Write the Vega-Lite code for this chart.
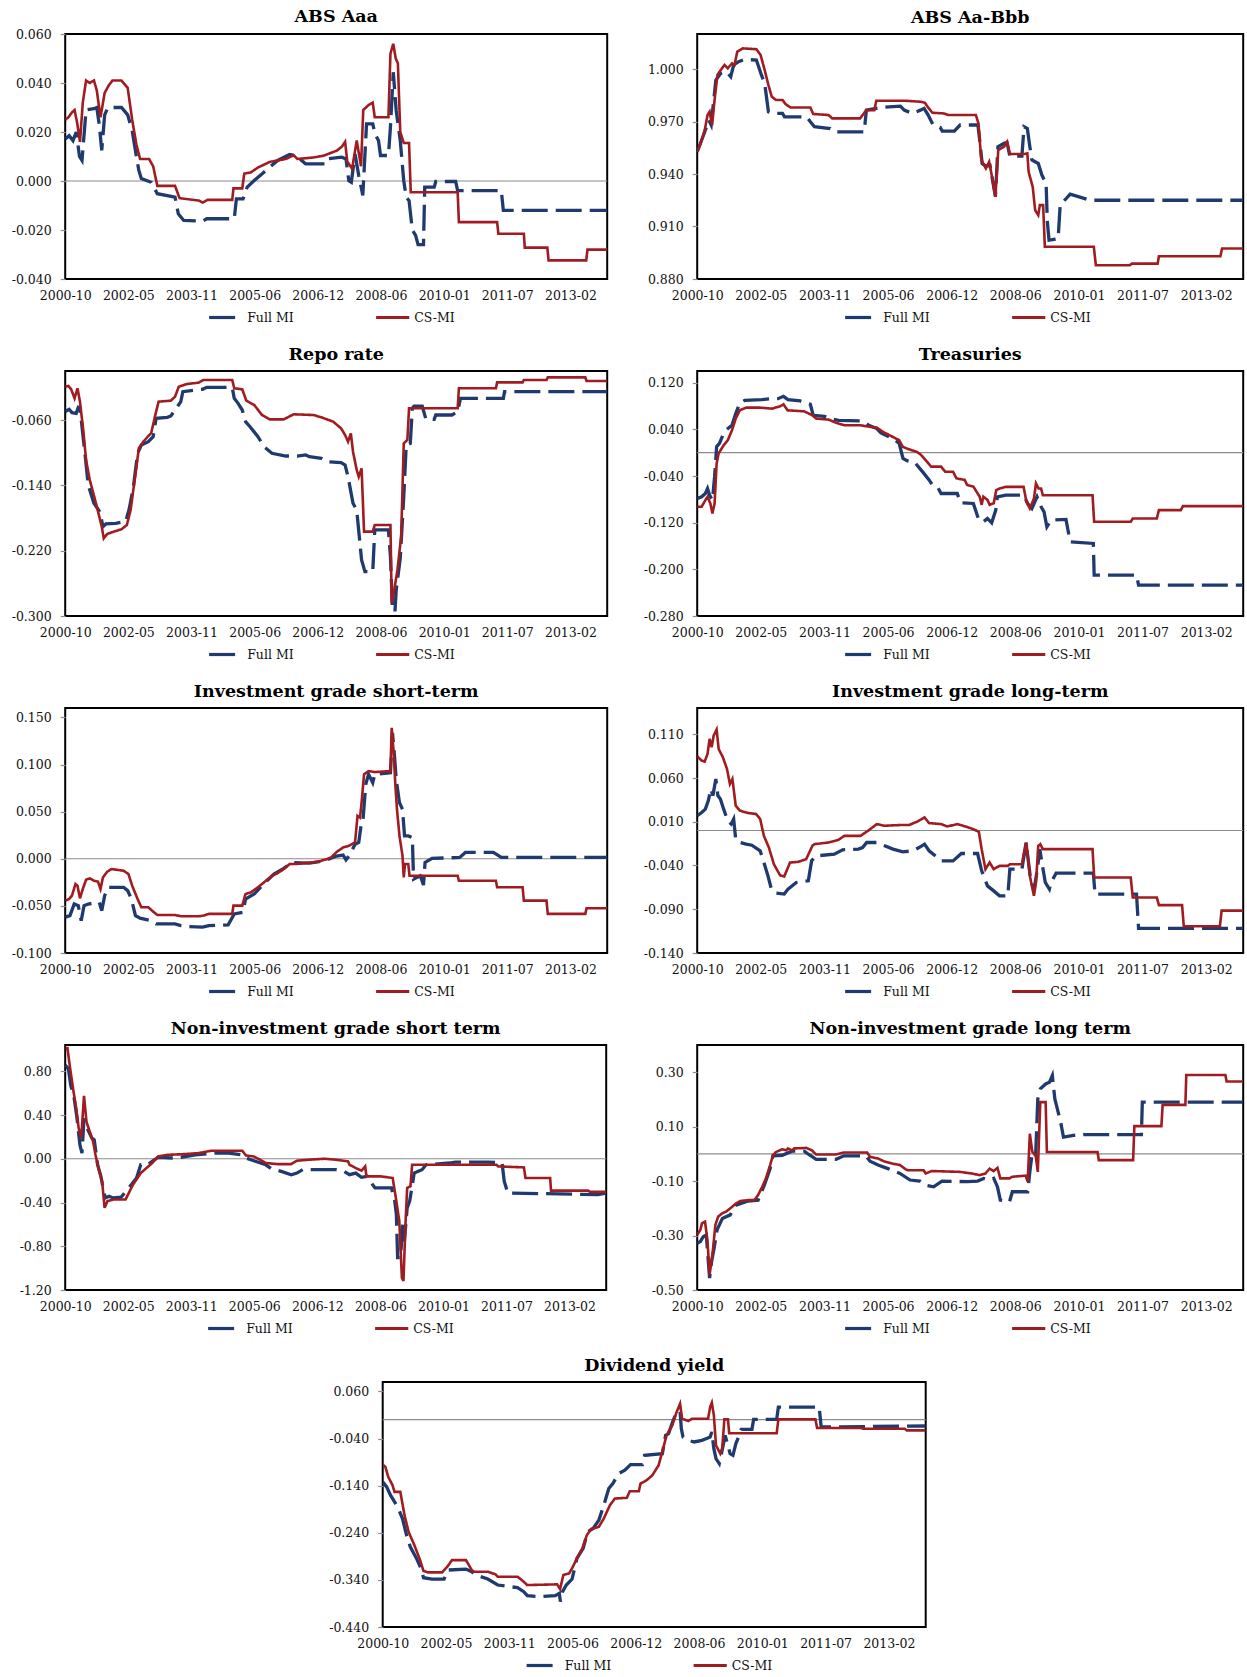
{
  "$schema": "https://vega.github.io/schema/vega-lite/v6.json",
  "background": "white",
  "padding": {"left": 10, "top": 6, "right": 5, "bottom": 0},
  "config": {
    "locale": {"number": {"decimal": ".", "thousands": ",", "grouping": [3], "currency": ["$", ""], "minus": "-"}},
    "view": {"stroke": "#000000", "strokeWidth": 2},
    "axis": {"labelFont": "DejaVu Serif", "labelFontSize": 12.5, "labelColor": "#111111", "grid": false, "title": null},
    "axisX": {"ticks": false, "domain": false, "labelPadding": 10, "labelFlush": false, "labelOverlap": false},
    "axisY": {"domain": false, "ticks": true, "tickColor": "#8c8c8c", "tickSize": 5, "tickWidth": 1.2, "labelPadding": 9, "labelFontSize": 12.5},
    "title": {"font": "DejaVu Serif", "fontSize": 17.5, "fontWeight": "bold", "color": "#000000", "offset": 8, "frame": "group", "anchor": "middle"},
    "legend": {"symbolType": "stroke", "symbolSize": 1100, "symbolStrokeWidth": 3.2, "labelFont": "DejaVu Serif", "labelFontSize": 12.5, "labelColor": "#111111", "columnPadding": 75, "labelOffset": 3}
  },
  "datasets": {
    "aaa": [
      {"series":"Full MI","date":"2000-301","value":0.0172},{"series":"Full MI","date":"2000-336","value":0.0185},{"series":"Full MI","date":"2001-004","value":0.0165},{"series":"Full MI","date":"2001-033","value":0.020},{"series":"Full MI","date":"2001-062","value":0.010},{"series":"Full MI","date":"2001-084","value":0.0084},{"series":"Full MI","date":"2001-120","value":0.029},{"series":"Full MI","date":"2001-190","value":0.0295},{"series":"Full MI","date":"2001-215","value":0.030},{"series":"Full MI","date":"2001-237","value":0.023},{"series":"Full MI","date":"2001-259","value":0.0125},{"series":"Full MI","date":"2001-285","value":0.027},{"series":"Full MI","date":"2001-314","value":0.030},{"series":"Full MI","date":"2002-069","value":0.030},{"series":"Full MI","date":"2002-124","value":0.027},{"series":"Full MI","date":"2002-164","value":0.0206},{"series":"Full MI","date":"2002-201","value":0.010},{"series":"Full MI","date":"2002-223","value":0.0043},{"series":"Full MI","date":"2002-245","value":0.001},{"series":"Full MI","date":"2002-332","value":-0.0005},{"series":"Full MI","date":"2003-022","value":-0.0052},{"series":"Full MI","date":"2003-179","value":-0.0066},{"series":"Full MI","date":"2003-208","value":-0.0134},{"series":"Full MI","date":"2003-256","value":-0.0161},{"series":"Full MI","date":"2004-058","value":-0.0164},{"series":"Full MI","date":"2004-095","value":-0.0154},{"series":"Full MI","date":"2004-339","value":-0.0154},{"series":"Full MI","date":"2004-358","value":-0.0073},{"series":"Full MI","date":"2005-051","value":-0.0073},{"series":"Full MI","date":"2005-088","value":-0.0025},{"series":"Full MI","date":"2005-150","value":0.0002},{"series":"Full MI","date":"2005-226","value":0.0032},{"series":"Full MI","date":"2005-358","value":0.0084},{"series":"Full MI","date":"2006-099","value":0.0108},{"series":"Full MI","date":"2006-153","value":0.0104},{"series":"Full MI","date":"2006-241","value":0.007},{"series":"Full MI","date":"2007-051","value":0.007},{"series":"Full MI","date":"2007-066","value":0.009},{"series":"Full MI","date":"2007-197","value":0.0097},{"series":"Full MI","date":"2007-234","value":0.009},{"series":"Full MI","date":"2007-259","value":0.0001},{"series":"Full MI","date":"2007-281","value":-0.0005},{"series":"Full MI","date":"2007-314","value":0.011},{"series":"Full MI","date":"2007-347","value":0.0022},{"series":"Full MI","date":"2008-018","value":-0.0059},{"series":"Full MI","date":"2008-051","value":0.0233},{"series":"Full MI","date":"2008-106","value":0.0233},{"series":"Full MI","date":"2008-128","value":0.019},{"series":"Full MI","date":"2008-157","value":0.0165},{"series":"Full MI","date":"2008-175","value":0.0104},{"series":"Full MI","date":"2008-245","value":0.0104},{"series":"Full MI","date":"2008-263","value":0.022},{"series":"Full MI","date":"2008-288","value":0.0444},{"series":"Full MI","date":"2008-314","value":0.0287},{"series":"Full MI","date":"2008-350","value":0.0165},{"series":"Full MI","date":"2009-015","value":0.0001},{"series":"Full MI","date":"2009-037","value":-0.0066},{"series":"Full MI","date":"2009-062","value":-0.008},{"series":"Full MI","date":"2009-091","value":-0.020},{"series":"Full MI","date":"2009-120","value":-0.0222},{"series":"Full MI","date":"2009-142","value":-0.026},{"series":"Full MI","date":"2009-190","value":-0.026},{"series":"Full MI","date":"2009-201","value":-0.0025},{"series":"Full MI","date":"2009-285","value":-0.0025},{"series":"Full MI","date":"2009-299","value":-0.0002},{"series":"Full MI","date":"2010-110","value":-0.0002},{"series":"Full MI","date":"2010-128","value":-0.0039},{"series":"Full MI","date":"2011-150","value":-0.0039},{"series":"Full MI","date":"2011-168","value":-0.012},{"series":"Full MI","date":"2013-358","value":-0.012},
      {"series":"CS-MI","date":"2000-301","value":0.025},{"series":"CS-MI","date":"2000-329","value":0.026},{"series":"CS-MI","date":"2000-361","value":0.028},{"series":"CS-MI","date":"2001-018","value":0.029},{"series":"CS-MI","date":"2001-040","value":0.024},{"series":"CS-MI","date":"2001-066","value":0.016},{"series":"CS-MI","date":"2001-091","value":0.032},{"series":"CS-MI","date":"2001-120","value":0.041},{"series":"CS-MI","date":"2001-153","value":0.040},{"series":"CS-MI","date":"2001-190","value":0.041},{"series":"CS-MI","date":"2001-215","value":0.037},{"series":"CS-MI","date":"2001-248","value":0.026},{"series":"CS-MI","date":"2001-285","value":0.036},{"series":"CS-MI","date":"2001-321","value":0.039},{"series":"CS-MI","date":"2001-354","value":0.041},{"series":"CS-MI","date":"2002-069","value":0.041},{"series":"CS-MI","date":"2002-124","value":0.038},{"series":"CS-MI","date":"2002-164","value":0.025},{"series":"CS-MI","date":"2002-201","value":0.015},{"series":"CS-MI","date":"2002-234","value":0.009},{"series":"CS-MI","date":"2002-314","value":0.009},{"series":"CS-MI","date":"2002-350","value":0.006},{"series":"CS-MI","date":"2003-022","value":-0.002},{"series":"CS-MI","date":"2003-179","value":-0.002},{"series":"CS-MI","date":"2003-219","value":-0.007},{"series":"CS-MI","date":"2004-026","value":-0.008},{"series":"CS-MI","date":"2004-058","value":-0.0088},{"series":"CS-MI","date":"2004-102","value":-0.0077},{"series":"CS-MI","date":"2004-321","value":-0.0077},{"series":"CS-MI","date":"2004-332","value":-0.003},{"series":"CS-MI","date":"2005-044","value":-0.003},{"series":"CS-MI","date":"2005-062","value":0.003},{"series":"CS-MI","date":"2005-120","value":0.0035},{"series":"CS-MI","date":"2005-183","value":0.0055},{"series":"CS-MI","date":"2005-288","value":0.0078},{"series":"CS-MI","date":"2006-066","value":0.009},{"series":"CS-MI","date":"2006-135","value":0.0105},{"series":"CS-MI","date":"2006-168","value":0.009},{"series":"CS-MI","date":"2006-310","value":0.0096},{"series":"CS-MI","date":"2007-033","value":0.0103},{"series":"CS-MI","date":"2007-153","value":0.0124},{"series":"CS-MI","date":"2007-197","value":0.014},{"series":"CS-MI","date":"2007-226","value":0.016},{"series":"CS-MI","date":"2007-245","value":0.008},{"series":"CS-MI","date":"2007-288","value":0.005},{"series":"CS-MI","date":"2007-329","value":0.0165},{"series":"CS-MI","date":"2008-002","value":0.006},{"series":"CS-MI","date":"2008-022","value":0.029},{"series":"CS-MI","date":"2008-069","value":0.031},{"series":"CS-MI","date":"2008-106","value":0.032},{"series":"CS-MI","date":"2008-124","value":0.026},{"series":"CS-MI","date":"2008-245","value":0.026},{"series":"CS-MI","date":"2008-263","value":0.052},{"series":"CS-MI","date":"2008-288","value":0.056},{"series":"CS-MI","date":"2008-310","value":0.050},{"series":"CS-MI","date":"2008-329","value":0.048},{"series":"CS-MI","date":"2008-350","value":0.020},{"series":"CS-MI","date":"2009-015","value":0.0155},{"series":"CS-MI","date":"2009-062","value":0.0155},{"series":"CS-MI","date":"2009-077","value":-0.0046},{"series":"CS-MI","date":"2010-128","value":-0.0046},{"series":"CS-MI","date":"2010-139","value":-0.0168},{"series":"CS-MI","date":"2011-113","value":-0.0168},{"series":"CS-MI","date":"2011-124","value":-0.0215},{"series":"CS-MI","date":"2011-350","value":-0.0215},{"series":"CS-MI","date":"2011-358","value":-0.0272},{"series":"CS-MI","date":"2012-193","value":-0.0272},{"series":"CS-MI","date":"2012-204","value":-0.0324},{"series":"CS-MI","date":"2013-172","value":-0.0324},{"series":"CS-MI","date":"2013-183","value":-0.028},{"series":"CS-MI","date":"2013-358","value":-0.028}
    ],
    "aabbb": [
      {"series":"Full MI","date":"2000-301","value":0.9527},{"series":"Full MI","date":"2001-001","value":0.964},{"series":"Full MI","date":"2001-037","value":0.9708},{"series":"Full MI","date":"2001-058","value":0.968},{"series":"Full MI","date":"2001-099","value":0.9937},{"series":"Full MI","date":"2001-142","value":0.9975},{"series":"Full MI","date":"2001-193","value":0.9985},{"series":"Full MI","date":"2001-230","value":0.9956},{"series":"Full MI","date":"2001-256","value":1.0023},{"series":"Full MI","date":"2001-299","value":1.0042},{"series":"Full MI","date":"2001-354","value":1.0055},{"series":"Full MI","date":"2002-091","value":1.0051},{"series":"Full MI","date":"2002-135","value":0.9966},{"series":"Full MI","date":"2002-164","value":0.9918},{"series":"Full MI","date":"2002-197","value":0.9756},{"series":"Full MI","date":"2002-241","value":0.9746},{"series":"Full MI","date":"2002-321","value":0.9746},{"series":"Full MI","date":"2002-339","value":0.9727},{"series":"Full MI","date":"2003-168","value":0.9727},{"series":"Full MI","date":"2003-201","value":0.9699},{"series":"Full MI","date":"2003-237","value":0.967},{"series":"Full MI","date":"2004-011","value":0.966},{"series":"Full MI","date":"2004-047","value":0.9641},{"series":"Full MI","date":"2004-310","value":0.9641},{"series":"Full MI","date":"2004-329","value":0.9765},{"series":"Full MI","date":"2005-088","value":0.978},{"series":"Full MI","date":"2005-263","value":0.9788},{"series":"Full MI","date":"2005-296","value":0.9765},{"series":"Full MI","date":"2006-004","value":0.9746},{"series":"Full MI","date":"2006-073","value":0.9765},{"series":"Full MI","date":"2006-106","value":0.9775},{"series":"Full MI","date":"2006-142","value":0.9737},{"series":"Full MI","date":"2006-186","value":0.968},{"series":"Full MI","date":"2006-248","value":0.9666},{"series":"Full MI","date":"2006-266","value":0.9645},{"series":"Full MI","date":"2007-007","value":0.9645},{"series":"Full MI","date":"2007-058","value":0.968},{"series":"Full MI","date":"2007-215","value":0.968},{"series":"Full MI","date":"2007-234","value":0.9575},{"series":"Full MI","date":"2007-252","value":0.946},{"series":"Full MI","date":"2007-285","value":0.9445},{"series":"Full MI","date":"2007-321","value":0.945},{"series":"Full MI","date":"2008-004","value":0.927},{"series":"Full MI","date":"2008-026","value":0.9556},{"series":"Full MI","date":"2008-080","value":0.9575},{"series":"Full MI","date":"2008-106","value":0.958},{"series":"Full MI","date":"2008-131","value":0.9502},{"series":"Full MI","date":"2008-237","value":0.9502},{"series":"Full MI","date":"2008-256","value":0.967},{"series":"Full MI","date":"2008-285","value":0.966},{"series":"Full MI","date":"2008-307","value":0.9556},{"series":"Full MI","date":"2008-325","value":0.948},{"series":"Full MI","date":"2009-015","value":0.946},{"series":"Full MI","date":"2009-047","value":0.9394},{"series":"Full MI","date":"2009-084","value":0.9346},{"series":"Full MI","date":"2009-095","value":0.9127},{"series":"Full MI","date":"2009-110","value":0.9022},{"series":"Full MI","date":"2009-190","value":0.9031},{"series":"Full MI","date":"2009-208","value":0.9222},{"series":"Full MI","date":"2009-296","value":0.9285},{"series":"Full MI","date":"2010-106","value":0.925},{"series":"Full MI","date":"2013-358","value":0.925},
      {"series":"CS-MI","date":"2000-301","value":0.9527},{"series":"CS-MI","date":"2000-332","value":0.9575},{"series":"CS-MI","date":"2001-001","value":0.965},{"series":"CS-MI","date":"2001-026","value":0.9737},{"series":"CS-MI","date":"2001-044","value":0.9756},{"series":"CS-MI","date":"2001-066","value":0.968},{"series":"CS-MI","date":"2001-088","value":0.9823},{"series":"CS-MI","date":"2001-113","value":0.9966},{"series":"CS-MI","date":"2001-142","value":0.9994},{"series":"CS-MI","date":"2001-175","value":1.0023},{"series":"CS-MI","date":"2001-204","value":1.0004},{"series":"CS-MI","date":"2001-241","value":1.0032},{"series":"CS-MI","date":"2001-263","value":1.0023},{"series":"CS-MI","date":"2001-288","value":1.0099},{"series":"CS-MI","date":"2001-336","value":1.0118},{"series":"CS-MI","date":"2002-091","value":1.0113},{"series":"CS-MI","date":"2002-128","value":1.008},{"series":"CS-MI","date":"2002-164","value":0.9994},{"series":"CS-MI","date":"2002-197","value":0.9908},{"series":"CS-MI","date":"2002-226","value":0.9842},{"series":"CS-MI","date":"2002-263","value":0.9823},{"series":"CS-MI","date":"2002-321","value":0.9823},{"series":"CS-MI","date":"2002-347","value":0.980},{"series":"CS-MI","date":"2003-026","value":0.978},{"series":"CS-MI","date":"2003-201","value":0.978},{"series":"CS-MI","date":"2003-226","value":0.9743},{"series":"CS-MI","date":"2003-361","value":0.9737},{"series":"CS-MI","date":"2004-029","value":0.9718},{"series":"CS-MI","date":"2004-274","value":0.9718},{"series":"CS-MI","date":"2004-329","value":0.9765},{"series":"CS-MI","date":"2005-033","value":0.9765},{"series":"CS-MI","date":"2005-051","value":0.9819},{"series":"CS-MI","date":"2005-296","value":0.9819},{"series":"CS-MI","date":"2006-073","value":0.9813},{"series":"CS-MI","date":"2006-113","value":0.9807},{"series":"CS-MI","date":"2006-142","value":0.978},{"series":"CS-MI","date":"2006-179","value":0.975},{"series":"CS-MI","date":"2006-281","value":0.9746},{"series":"CS-MI","date":"2006-318","value":0.9737},{"series":"CS-MI","date":"2007-197","value":0.9737},{"series":"CS-MI","date":"2007-219","value":0.969},{"series":"CS-MI","date":"2007-245","value":0.948},{"series":"CS-MI","date":"2007-285","value":0.9432},{"series":"CS-MI","date":"2007-314","value":0.947},{"series":"CS-MI","date":"2007-339","value":0.9384},{"series":"CS-MI","date":"2008-004","value":0.927},{"series":"CS-MI","date":"2008-029","value":0.9537},{"series":"CS-MI","date":"2008-080","value":0.9556},{"series":"CS-MI","date":"2008-106","value":0.9584},{"series":"CS-MI","date":"2008-131","value":0.9514},{"series":"CS-MI","date":"2008-256","value":0.9514},{"series":"CS-MI","date":"2008-285","value":0.9518},{"series":"CS-MI","date":"2008-296","value":0.9413},{"series":"CS-MI","date":"2008-332","value":0.9327},{"series":"CS-MI","date":"2008-354","value":0.9193},{"series":"CS-MI","date":"2009-015","value":0.9165},{"series":"CS-MI","date":"2009-029","value":0.9222},{"series":"CS-MI","date":"2009-058","value":0.9222},{"series":"CS-MI","date":"2009-073","value":0.8984},{"series":"CS-MI","date":"2010-139","value":0.8984},{"series":"CS-MI","date":"2010-157","value":0.8879},{"series":"CS-MI","date":"2011-091","value":0.8879},{"series":"CS-MI","date":"2011-110","value":0.8888},{"series":"CS-MI","date":"2011-336","value":0.8888},{"series":"CS-MI","date":"2011-347","value":0.893},{"series":"CS-MI","date":"2013-157","value":0.893},{"series":"CS-MI","date":"2013-172","value":0.8974},{"series":"CS-MI","date":"2013-358","value":0.8974}
    ],
    "repo": [
      {"series":"Full MI","date":"2000-301","value":-0.0498},{"series":"Full MI","date":"2000-336","value":-0.0469},{"series":"Full MI","date":"2000-361","value":-0.051},{"series":"Full MI","date":"2001-033","value":-0.0518},{"series":"Full MI","date":"2001-051","value":-0.0445},{"series":"Full MI","date":"2001-066","value":-0.0457},{"series":"Full MI","date":"2001-084","value":-0.0682},{"series":"Full MI","date":"2001-113","value":-0.1049},{"series":"Full MI","date":"2001-139","value":-0.1396},{"series":"Full MI","date":"2001-190","value":-0.162},{"series":"Full MI","date":"2001-241","value":-0.1722},{"series":"Full MI","date":"2001-270","value":-0.1906},{"series":"Full MI","date":"2001-296","value":-0.1873},{"series":"Full MI","date":"2002-018","value":-0.1865},{"series":"Full MI","date":"2002-106","value":-0.1844},{"series":"Full MI","date":"2002-139","value":-0.1681},{"series":"Full MI","date":"2002-175","value":-0.1416},{"series":"Full MI","date":"2002-212","value":-0.1008},{"series":"Full MI","date":"2002-245","value":-0.0906},{"series":"Full MI","date":"2002-307","value":-0.0865},{"series":"Full MI","date":"2002-350","value":-0.0804},{"series":"Full MI","date":"2003-011","value":-0.058},{"series":"Full MI","date":"2003-110","value":-0.0567},{"series":"Full MI","date":"2003-142","value":-0.0551},{"series":"Full MI","date":"2003-179","value":-0.0478},{"series":"Full MI","date":"2003-230","value":-0.0376},{"series":"Full MI","date":"2003-248","value":-0.0253},{"series":"Full MI","date":"2004-058","value":-0.0224},{"series":"Full MI","date":"2004-095","value":-0.020},{"series":"Full MI","date":"2004-321","value":-0.020},{"series":"Full MI","date":"2004-339","value":-0.0335},{"series":"Full MI","date":"2005-007","value":-0.0396},{"series":"Full MI","date":"2005-044","value":-0.0478},{"series":"Full MI","date":"2005-073","value":-0.062},{"series":"Full MI","date":"2005-113","value":-0.0682},{"series":"Full MI","date":"2005-183","value":-0.0804},{"series":"Full MI","date":"2005-237","value":-0.0927},{"series":"Full MI","date":"2005-307","value":-0.1008},{"series":"Full MI","date":"2006-066","value":-0.1041},{"series":"Full MI","date":"2006-168","value":-0.1041},{"series":"Full MI","date":"2006-241","value":-0.1028},{"series":"Full MI","date":"2006-274","value":-0.1049},{"series":"Full MI","date":"2007-015","value":-0.1069},{"series":"Full MI","date":"2007-058","value":-0.111},{"series":"Full MI","date":"2007-190","value":-0.1122},{"series":"Full MI","date":"2007-226","value":-0.1151},{"series":"Full MI","date":"2007-252","value":-0.1294},{"series":"Full MI","date":"2007-296","value":-0.162},{"series":"Full MI","date":"2007-329","value":-0.1702},{"series":"Full MI","date":"2008-007","value":-0.2314},{"series":"Full MI","date":"2008-037","value":-0.2457},{"series":"Full MI","date":"2008-106","value":-0.2457},{"series":"Full MI","date":"2008-124","value":-0.1946},{"series":"Full MI","date":"2008-245","value":-0.1946},{"series":"Full MI","date":"2008-263","value":-0.2273},{"series":"Full MI","date":"2008-281","value":-0.2926},{"series":"Full MI","date":"2008-303","value":-0.2946},{"series":"Full MI","date":"2008-314","value":-0.2681},{"series":"Full MI","date":"2008-350","value":-0.2293},{"series":"Full MI","date":"2009-015","value":-0.1538},{"series":"Full MI","date":"2009-037","value":-0.0906},{"series":"Full MI","date":"2009-073","value":-0.0886},{"series":"Full MI","date":"2009-091","value":-0.0457},{"series":"Full MI","date":"2009-106","value":-0.0429},{"series":"Full MI","date":"2009-179","value":-0.0429},{"series":"Full MI","date":"2009-212","value":-0.0592},{"series":"Full MI","date":"2009-285","value":-0.0592},{"series":"Full MI","date":"2009-299","value":-0.0539},{"series":"Full MI","date":"2010-077","value":-0.0539},{"series":"Full MI","date":"2010-128","value":-0.0498},{"series":"Full MI","date":"2010-153","value":-0.0335},{"series":"Full MI","date":"2011-168","value":-0.0335},{"series":"Full MI","date":"2011-179","value":-0.0253},{"series":"Full MI","date":"2013-358","value":-0.0253},
      {"series":"CS-MI","date":"2000-301","value":-0.0192},{"series":"CS-MI","date":"2000-329","value":-0.0184},{"series":"CS-MI","date":"2000-354","value":-0.0224},{"series":"CS-MI","date":"2001-018","value":-0.0335},{"series":"CS-MI","date":"2001-044","value":-0.0212},{"series":"CS-MI","date":"2001-066","value":-0.0376},{"series":"CS-MI","date":"2001-095","value":-0.0722},{"series":"CS-MI","date":"2001-120","value":-0.109},{"series":"CS-MI","date":"2001-153","value":-0.1335},{"series":"CS-MI","date":"2001-208","value":-0.162},{"series":"CS-MI","date":"2001-259","value":-0.1906},{"series":"CS-MI","date":"2001-277","value":-0.2049},{"series":"CS-MI","date":"2001-307","value":-0.1996},{"series":"CS-MI","date":"2002-001","value":-0.1967},{"series":"CS-MI","date":"2002-069","value":-0.1938},{"series":"CS-MI","date":"2002-117","value":-0.1885},{"series":"CS-MI","date":"2002-150","value":-0.1702},{"series":"CS-MI","date":"2002-186","value":-0.1335},{"series":"CS-MI","date":"2002-223","value":-0.0947},{"series":"CS-MI","date":"2002-263","value":-0.0865},{"series":"CS-MI","date":"2002-307","value":-0.0796},{"series":"CS-MI","date":"2002-332","value":-0.0763},{"series":"CS-MI","date":"2003-004","value":-0.0539},{"series":"CS-MI","date":"2003-033","value":-0.0376},{"series":"CS-MI","date":"2003-142","value":-0.0363},{"series":"CS-MI","date":"2003-179","value":-0.0314},{"series":"CS-MI","date":"2003-212","value":-0.0192},{"series":"CS-MI","date":"2003-285","value":-0.0159},{"series":"CS-MI","date":"2004-022","value":-0.0143},{"series":"CS-MI","date":"2004-066","value":-0.011},{"series":"CS-MI","date":"2004-321","value":-0.011},{"series":"CS-MI","date":"2004-339","value":-0.0212},{"series":"CS-MI","date":"2005-044","value":-0.0224},{"series":"CS-MI","date":"2005-080","value":-0.0363},{"series":"CS-MI","date":"2005-150","value":-0.0416},{"series":"CS-MI","date":"2005-219","value":-0.0539},{"series":"CS-MI","date":"2005-288","value":-0.0592},{"series":"CS-MI","date":"2006-047","value":-0.0592},{"series":"CS-MI","date":"2006-135","value":-0.053},{"series":"CS-MI","date":"2006-310","value":-0.0539},{"series":"CS-MI","date":"2007-015","value":-0.0567},{"series":"CS-MI","date":"2007-120","value":-0.062},{"series":"CS-MI","date":"2007-190","value":-0.0702},{"series":"CS-MI","date":"2007-226","value":-0.0784},{"series":"CS-MI","date":"2007-252","value":-0.0865},{"series":"CS-MI","date":"2007-277","value":-0.0763},{"series":"CS-MI","date":"2007-296","value":-0.0988},{"series":"CS-MI","date":"2007-329","value":-0.1212},{"series":"CS-MI","date":"2007-347","value":-0.1294},{"series":"CS-MI","date":"2008-007","value":-0.1192},{"series":"CS-MI","date":"2008-029","value":-0.1967},{"series":"CS-MI","date":"2008-106","value":-0.1967},{"series":"CS-MI","date":"2008-124","value":-0.1885},{"series":"CS-MI","date":"2008-263","value":-0.1885},{"series":"CS-MI","date":"2008-274","value":-0.2844},{"series":"CS-MI","date":"2008-292","value":-0.2722},{"series":"CS-MI","date":"2008-325","value":-0.2436},{"series":"CS-MI","date":"2008-358","value":-0.2028},{"series":"CS-MI","date":"2009-015","value":-0.0886},{"series":"CS-MI","date":"2009-047","value":-0.0845},{"series":"CS-MI","date":"2009-062","value":-0.0457},{"series":"CS-MI","date":"2010-128","value":-0.0457},{"series":"CS-MI","date":"2010-139","value":-0.0212},{"series":"CS-MI","date":"2011-102","value":-0.0212},{"series":"CS-MI","date":"2011-113","value":-0.0139},{"series":"CS-MI","date":"2011-339","value":-0.0139},{"series":"CS-MI","date":"2011-350","value":-0.011},{"series":"CS-MI","date":"2012-186","value":-0.011},{"series":"CS-MI","date":"2012-197","value":-0.0078},{"series":"CS-MI","date":"2013-164","value":-0.0078},{"series":"CS-MI","date":"2013-175","value":-0.0122},{"series":"CS-MI","date":"2013-358","value":-0.0122}
    ],
    "treas": [
      {"series":"Full MI","date":"2000-301","value":-0.0786},{"series":"Full MI","date":"2000-340","value":-0.0757},{"series":"Full MI","date":"2001-007","value":-0.070},{"series":"Full MI","date":"2001-026","value":-0.0615},{"series":"Full MI","date":"2001-044","value":-0.0729},{"series":"Full MI","date":"2001-069","value":-0.0814},{"series":"Full MI","date":"2001-088","value":-0.0415},{"series":"Full MI","date":"2001-106","value":0.0103},{"series":"Full MI","date":"2001-131","value":0.0161},{"series":"Full MI","date":"2001-161","value":0.0302},{"series":"Full MI","date":"2001-186","value":0.0384},{"series":"Full MI","date":"2001-241","value":0.047},{"series":"Full MI","date":"2001-274","value":0.0669},{"series":"Full MI","date":"2001-310","value":0.0852},{"series":"Full MI","date":"2001-354","value":0.0898},{"series":"Full MI","date":"2002-139","value":0.0909},{"series":"Full MI","date":"2002-230","value":0.0926},{"series":"Full MI","date":"2002-281","value":0.0926},{"series":"Full MI","date":"2002-329","value":0.0966},{"series":"Full MI","date":"2003-004","value":0.0909},{"series":"Full MI","date":"2003-113","value":0.0886},{"series":"Full MI","date":"2003-201","value":0.0829},{"series":"Full MI","date":"2003-226","value":0.0641},{"series":"Full MI","date":"2003-325","value":0.0624},{"series":"Full MI","date":"2004-011","value":0.0584},{"series":"Full MI","date":"2004-084","value":0.0555},{"series":"Full MI","date":"2004-296","value":0.0544},{"series":"Full MI","date":"2004-350","value":0.047},{"series":"Full MI","date":"2005-055","value":0.0413},{"series":"Full MI","date":"2005-091","value":0.0339},{"series":"Full MI","date":"2005-197","value":0.0242},{"series":"Full MI","date":"2005-252","value":0.016},{"series":"Full MI","date":"2005-285","value":-0.0097},{"series":"Full MI","date":"2005-321","value":-0.0137},{"series":"Full MI","date":"2006-026","value":-0.0171},{"series":"Full MI","date":"2006-099","value":-0.0343},{"series":"Full MI","date":"2006-150","value":-0.0468},{"series":"Full MI","date":"2006-179","value":-0.0554},{"series":"Full MI","date":"2006-223","value":-0.0582},{"series":"Full MI","date":"2006-256","value":-0.070},{"series":"Full MI","date":"2007-033","value":-0.070},{"series":"Full MI","date":"2007-062","value":-0.086},{"series":"Full MI","date":"2007-175","value":-0.0871},{"series":"Full MI","date":"2007-223","value":-0.1157},{"series":"Full MI","date":"2007-263","value":-0.1185},{"series":"Full MI","date":"2007-299","value":-0.1128},{"series":"Full MI","date":"2007-336","value":-0.1202},{"series":"Full MI","date":"2008-007","value":-0.0985},{"series":"Full MI","date":"2008-022","value":-0.0757},{"series":"Full MI","date":"2008-095","value":-0.0729},{"series":"Full MI","date":"2008-252","value":-0.0729},{"series":"Full MI","date":"2008-288","value":-0.0871},{"series":"Full MI","date":"2008-325","value":-0.0957},{"series":"Full MI","date":"2009-004","value":-0.0757},{"series":"Full MI","date":"2009-040","value":-0.0928},{"series":"Full MI","date":"2009-066","value":-0.1014},{"series":"Full MI","date":"2009-091","value":-0.127},{"series":"Full MI","date":"2009-128","value":-0.1157},{"series":"Full MI","date":"2009-259","value":-0.1145},{"series":"Full MI","date":"2009-296","value":-0.1527},{"series":"Full MI","date":"2010-135","value":-0.1556},{"series":"Full MI","date":"2010-142","value":-0.2098},{"series":"Full MI","date":"2011-150","value":-0.2098},{"series":"Full MI","date":"2011-168","value":-0.2269},{"series":"Full MI","date":"2013-358","value":-0.2269},
      {"series":"CS-MI","date":"2000-301","value":-0.0928},{"series":"CS-MI","date":"2000-340","value":-0.0928},{"series":"CS-MI","date":"2001-007","value":-0.0814},{"series":"CS-MI","date":"2001-026","value":-0.0757},{"series":"CS-MI","date":"2001-051","value":-0.0871},{"series":"CS-MI","date":"2001-069","value":-0.1042},{"series":"CS-MI","date":"2001-088","value":-0.0871},{"series":"CS-MI","date":"2001-106","value":-0.0187},{"series":"CS-MI","date":"2001-124","value":-0.0011},{"series":"CS-MI","date":"2001-168","value":0.0127},{"series":"CS-MI","date":"2001-204","value":0.0213},{"series":"CS-MI","date":"2001-241","value":0.0384},{"series":"CS-MI","date":"2001-274","value":0.0584},{"series":"CS-MI","date":"2001-310","value":0.0726},{"series":"CS-MI","date":"2002-001","value":0.0772},{"series":"CS-MI","date":"2002-120","value":0.0772},{"series":"CS-MI","date":"2002-230","value":0.0755},{"series":"CS-MI","date":"2002-299","value":0.0795},{"series":"CS-MI","date":"2002-329","value":0.0829},{"series":"CS-MI","date":"2003-001","value":0.0726},{"series":"CS-MI","date":"2003-146","value":0.0709},{"series":"CS-MI","date":"2003-219","value":0.0641},{"series":"CS-MI","date":"2003-252","value":0.0584},{"series":"CS-MI","date":"2003-361","value":0.0567},{"series":"CS-MI","date":"2004-066","value":0.051},{"series":"CS-MI","date":"2004-135","value":0.047},{"series":"CS-MI","date":"2004-277","value":0.047},{"series":"CS-MI","date":"2005-001","value":0.0441},{"series":"CS-MI","date":"2005-055","value":0.043},{"series":"CS-MI","date":"2005-110","value":0.0355},{"series":"CS-MI","date":"2005-197","value":0.0269},{"series":"CS-MI","date":"2005-252","value":0.0213},{"series":"CS-MI","date":"2005-285","value":0.0098},{"series":"CS-MI","date":"2005-339","value":0.0057},{"series":"CS-MI","date":"2006-044","value":0.0012},{"series":"CS-MI","date":"2006-080","value":-0.004},{"series":"CS-MI","date":"2006-131","value":-0.0154},{"series":"CS-MI","date":"2006-168","value":-0.024},{"series":"CS-MI","date":"2006-256","value":-0.024},{"series":"CS-MI","date":"2006-292","value":-0.0326},{"series":"CS-MI","date":"2006-361","value":-0.0326},{"series":"CS-MI","date":"2007-026","value":-0.044},{"series":"CS-MI","date":"2007-099","value":-0.0468},{"series":"CS-MI","date":"2007-120","value":-0.0554},{"series":"CS-MI","date":"2007-175","value":-0.0582},{"series":"CS-MI","date":"2007-230","value":-0.0753},{"series":"CS-MI","date":"2007-248","value":-0.0894},{"series":"CS-MI","date":"2007-263","value":-0.0753},{"series":"CS-MI","date":"2007-299","value":-0.081},{"series":"CS-MI","date":"2007-318","value":-0.0894},{"series":"CS-MI","date":"2007-354","value":-0.0866},{"series":"CS-MI","date":"2008-011","value":-0.0643},{"series":"CS-MI","date":"2008-040","value":-0.0615},{"series":"CS-MI","date":"2008-095","value":-0.0586},{"series":"CS-MI","date":"2008-252","value":-0.0586},{"series":"CS-MI","date":"2008-277","value":-0.0843},{"series":"CS-MI","date":"2008-307","value":-0.0957},{"series":"CS-MI","date":"2008-343","value":-0.0786},{"series":"CS-MI","date":"2008-361","value":-0.0529},{"series":"CS-MI","date":"2009-018","value":-0.0615},{"series":"CS-MI","date":"2009-040","value":-0.0615},{"series":"CS-MI","date":"2009-055","value":-0.0729},{"series":"CS-MI","date":"2010-128","value":-0.0729},{"series":"CS-MI","date":"2010-142","value":-0.1185},{"series":"CS-MI","date":"2011-099","value":-0.1185},{"series":"CS-MI","date":"2011-117","value":-0.1128},{"series":"CS-MI","date":"2011-329","value":-0.1128},{"series":"CS-MI","date":"2011-347","value":-0.0985},{"series":"CS-MI","date":"2012-175","value":-0.0985},{"series":"CS-MI","date":"2012-193","value":-0.0917},{"series":"CS-MI","date":"2013-358","value":-0.0917}
    ],
    "igs": [
      {"series":"Full MI","date":"2000-301","value":-0.062},{"series":"Full MI","date":"2000-343","value":-0.0603},{"series":"Full MI","date":"2001-015","value":-0.048},{"series":"Full MI","date":"2001-051","value":-0.0497},{"series":"Full MI","date":"2001-077","value":-0.0656},{"series":"Full MI","date":"2001-102","value":-0.0497},{"series":"Full MI","date":"2001-139","value":-0.048},{"series":"Full MI","date":"2001-237","value":-0.0462},{"series":"Full MI","date":"2001-259","value":-0.055},{"series":"Full MI","date":"2001-285","value":-0.0391},{"series":"Full MI","date":"2001-314","value":-0.0303},{"series":"Full MI","date":"2002-088","value":-0.0303},{"series":"Full MI","date":"2002-124","value":-0.0338},{"series":"Full MI","date":"2002-157","value":-0.0427},{"series":"Full MI","date":"2002-193","value":-0.0603},{"series":"Full MI","date":"2002-234","value":-0.0631},{"series":"Full MI","date":"2002-332","value":-0.0656},{"series":"Full MI","date":"2003-011","value":-0.0691},{"series":"Full MI","date":"2003-179","value":-0.0691},{"series":"Full MI","date":"2003-230","value":-0.0709},{"series":"Full MI","date":"2003-299","value":-0.0719},{"series":"Full MI","date":"2004-058","value":-0.0726},{"series":"Full MI","date":"2004-113","value":-0.0709},{"series":"Full MI","date":"2004-285","value":-0.0702},{"series":"Full MI","date":"2004-339","value":-0.0585},{"series":"Full MI","date":"2005-051","value":-0.0568},{"series":"Full MI","date":"2005-073","value":-0.0427},{"series":"Full MI","date":"2005-150","value":-0.0374},{"series":"Full MI","date":"2005-219","value":-0.0286},{"series":"Full MI","date":"2005-325","value":-0.0162},{"series":"Full MI","date":"2006-047","value":-0.0102},{"series":"Full MI","date":"2006-117","value":-0.0039},{"series":"Full MI","date":"2006-274","value":-0.0046},{"series":"Full MI","date":"2006-347","value":-0.0032},{"series":"Full MI","date":"2007-066","value":-0.0011},{"series":"Full MI","date":"2007-139","value":0.0025},{"series":"Full MI","date":"2007-208","value":0.0039},{"series":"Full MI","date":"2007-234","value":-0.0011},{"series":"Full MI","date":"2007-266","value":0.0039},{"series":"Full MI","date":"2007-314","value":0.0155},{"series":"Full MI","date":"2007-347","value":0.0173},{"series":"Full MI","date":"2008-002","value":0.0349},{"series":"Full MI","date":"2008-018","value":0.0384},{"series":"Full MI","date":"2008-044","value":0.079},{"series":"Full MI","date":"2008-069","value":0.0896},{"series":"Full MI","date":"2008-106","value":0.0807},{"series":"Full MI","date":"2008-124","value":0.0896},{"series":"Full MI","date":"2008-263","value":0.0913},{"series":"Full MI","date":"2008-281","value":0.1336},{"series":"Full MI","date":"2008-299","value":0.109},{"series":"Full MI","date":"2008-314","value":0.0843},{"series":"Full MI","date":"2008-343","value":0.0596},{"series":"Full MI","date":"2009-004","value":0.0525},{"series":"Full MI","date":"2009-022","value":0.0243},{"series":"Full MI","date":"2009-055","value":0.0243},{"series":"Full MI","date":"2009-091","value":0.0226},{"series":"Full MI","date":"2009-102","value":-0.0215},{"series":"Full MI","date":"2009-161","value":-0.018},{"series":"Full MI","date":"2009-190","value":-0.0279},{"series":"Full MI","date":"2009-204","value":-0.0039},{"series":"Full MI","date":"2009-266","value":0.0004},{"series":"Full MI","date":"2010-146","value":0.0014},{"series":"Full MI","date":"2010-197","value":0.0067},{"series":"Full MI","date":"2011-080","value":0.0067},{"series":"Full MI","date":"2011-150","value":0.0014},{"series":"Full MI","date":"2013-358","value":0.0014},
      {"series":"CS-MI","date":"2000-301","value":-0.0444},{"series":"CS-MI","date":"2000-336","value":-0.0427},{"series":"CS-MI","date":"2000-361","value":-0.0391},{"series":"CS-MI","date":"2001-026","value":-0.0268},{"series":"CS-MI","date":"2001-044","value":-0.0286},{"series":"CS-MI","date":"2001-066","value":-0.042},{"series":"CS-MI","date":"2001-091","value":-0.0321},{"series":"CS-MI","date":"2001-120","value":-0.0222},{"series":"CS-MI","date":"2001-153","value":-0.0208},{"series":"CS-MI","date":"2001-190","value":-0.0233},{"series":"CS-MI","date":"2001-226","value":-0.0243},{"series":"CS-MI","date":"2001-248","value":-0.0321},{"series":"CS-MI","date":"2001-270","value":-0.0197},{"series":"CS-MI","date":"2001-307","value":-0.0138},{"series":"CS-MI","date":"2001-347","value":-0.0109},{"series":"CS-MI","date":"2002-088","value":-0.0127},{"series":"CS-MI","date":"2002-131","value":-0.0162},{"series":"CS-MI","date":"2002-164","value":-0.0286},{"series":"CS-MI","date":"2002-212","value":-0.0427},{"series":"CS-MI","date":"2002-245","value":-0.0515},{"series":"CS-MI","date":"2002-307","value":-0.0515},{"series":"CS-MI","date":"2002-350","value":-0.0561},{"series":"CS-MI","date":"2003-022","value":-0.0596},{"series":"CS-MI","date":"2003-179","value":-0.0596},{"series":"CS-MI","date":"2003-230","value":-0.061},{"series":"CS-MI","date":"2004-026","value":-0.061},{"series":"CS-MI","date":"2004-066","value":-0.0603},{"series":"CS-MI","date":"2004-113","value":-0.0585},{"series":"CS-MI","date":"2004-321","value":-0.0585},{"series":"CS-MI","date":"2004-332","value":-0.0497},{"series":"CS-MI","date":"2005-044","value":-0.0497},{"series":"CS-MI","date":"2005-073","value":-0.0374},{"series":"CS-MI","date":"2005-120","value":-0.0356},{"series":"CS-MI","date":"2005-183","value":-0.0303},{"series":"CS-MI","date":"2005-237","value":-0.025},{"series":"CS-MI","date":"2005-307","value":-0.018},{"series":"CS-MI","date":"2005-358","value":-0.0152},{"series":"CS-MI","date":"2006-047","value":-0.0109},{"series":"CS-MI","date":"2006-099","value":-0.0056},{"series":"CS-MI","date":"2006-153","value":-0.0056},{"series":"CS-MI","date":"2006-292","value":-0.0039},{"series":"CS-MI","date":"2006-347","value":-0.0032},{"series":"CS-MI","date":"2007-066","value":-0.0004},{"series":"CS-MI","date":"2007-102","value":0.0014},{"series":"CS-MI","date":"2007-153","value":0.0074},{"series":"CS-MI","date":"2007-208","value":0.012},{"series":"CS-MI","date":"2007-259","value":0.0138},{"series":"CS-MI","date":"2007-314","value":0.0173},{"series":"CS-MI","date":"2007-336","value":0.0455},{"series":"CS-MI","date":"2007-358","value":0.0437},{"series":"CS-MI","date":"2008-007","value":0.0596},{"series":"CS-MI","date":"2008-029","value":0.0896},{"series":"CS-MI","date":"2008-069","value":0.0931},{"series":"CS-MI","date":"2008-124","value":0.092},{"series":"CS-MI","date":"2008-263","value":0.0931},{"series":"CS-MI","date":"2008-274","value":0.1389},{"series":"CS-MI","date":"2008-292","value":0.1125},{"series":"CS-MI","date":"2008-307","value":0.0772},{"series":"CS-MI","date":"2008-321","value":0.0525},{"series":"CS-MI","date":"2008-343","value":0.0243},{"series":"CS-MI","date":"2009-004","value":0.0032},{"series":"CS-MI","date":"2009-015","value":-0.0197},{"series":"CS-MI","date":"2009-026","value":-0.0056},{"series":"CS-MI","date":"2009-055","value":-0.0056},{"series":"CS-MI","date":"2009-066","value":-0.018},{"series":"CS-MI","date":"2010-128","value":-0.018},{"series":"CS-MI","date":"2010-139","value":-0.0233},{"series":"CS-MI","date":"2011-102","value":-0.0233},{"series":"CS-MI","date":"2011-113","value":-0.0303},{"series":"CS-MI","date":"2011-339","value":-0.0303},{"series":"CS-MI","date":"2011-350","value":-0.0444},{"series":"CS-MI","date":"2012-186","value":-0.0444},{"series":"CS-MI","date":"2012-197","value":-0.0585},{"series":"CS-MI","date":"2013-164","value":-0.0585},{"series":"CS-MI","date":"2013-175","value":-0.0525},{"series":"CS-MI","date":"2013-358","value":-0.0525}
    ],
    "igl": [
      {"series":"Full MI","date":"2000-301","value":0.0168},{"series":"Full MI","date":"2000-340","value":0.0206},{"series":"Full MI","date":"2001-007","value":0.0244},{"series":"Full MI","date":"2001-033","value":0.0342},{"series":"Full MI","date":"2001-055","value":0.0475},{"series":"Full MI","date":"2001-073","value":0.0399},{"series":"Full MI","date":"2001-099","value":0.0589},{"series":"Full MI","date":"2001-117","value":0.0399},{"series":"Full MI","date":"2001-139","value":0.0361},{"series":"Full MI","date":"2001-168","value":0.0244},{"series":"Full MI","date":"2001-204","value":0.0111},{"series":"Full MI","date":"2001-234","value":0.0073},{"series":"Full MI","date":"2001-256","value":0.013},{"series":"Full MI","date":"2001-274","value":-0.0099},{"series":"Full MI","date":"2001-310","value":-0.0137},{"series":"Full MI","date":"2002-001","value":-0.0156},{"series":"Full MI","date":"2002-051","value":-0.0168},{"series":"Full MI","date":"2002-124","value":-0.0232},{"series":"Full MI","date":"2002-157","value":-0.0366},{"series":"Full MI","date":"2002-193","value":-0.0518},{"series":"Full MI","date":"2002-223","value":-0.067},{"series":"Full MI","date":"2002-263","value":-0.0716},{"series":"Full MI","date":"2002-336","value":-0.0727},{"series":"Full MI","date":"2003-004","value":-0.067},{"series":"Full MI","date":"2003-077","value":-0.0594},{"series":"Full MI","date":"2003-183","value":-0.0575},{"series":"Full MI","date":"2003-212","value":-0.0347},{"series":"Full MI","date":"2003-252","value":-0.029},{"series":"Full MI","date":"2004-047","value":-0.0271},{"series":"Full MI","date":"2004-120","value":-0.0221},{"series":"Full MI","date":"2004-259","value":-0.0213},{"series":"Full MI","date":"2004-296","value":-0.0195},{"series":"Full MI","date":"2004-332","value":-0.0137},{"series":"Full MI","date":"2005-055","value":-0.0137},{"series":"Full MI","date":"2005-124","value":-0.0175},{"series":"Full MI","date":"2005-197","value":-0.0213},{"series":"Full MI","date":"2005-285","value":-0.0244},{"series":"Full MI","date":"2006-007","value":-0.0232},{"series":"Full MI","date":"2006-062","value":-0.0195},{"series":"Full MI","date":"2006-110","value":-0.0156},{"series":"Full MI","date":"2006-150","value":-0.0232},{"series":"Full MI","date":"2006-223","value":-0.0309},{"series":"Full MI","date":"2006-256","value":-0.0347},{"series":"Full MI","date":"2006-361","value":-0.0347},{"series":"Full MI","date":"2007-069","value":-0.0263},{"series":"Full MI","date":"2007-212","value":-0.0263},{"series":"Full MI","date":"2007-248","value":-0.0461},{"series":"Full MI","date":"2007-299","value":-0.0633},{"series":"Full MI","date":"2007-354","value":-0.069},{"series":"Full MI","date":"2008-040","value":-0.0747},{"series":"Full MI","date":"2008-113","value":-0.0747},{"series":"Full MI","date":"2008-131","value":-0.0442},{"series":"Full MI","date":"2008-237","value":-0.0442},{"series":"Full MI","date":"2008-274","value":-0.0137},{"series":"Full MI","date":"2008-288","value":-0.029},{"series":"Full MI","date":"2008-314","value":-0.0556},{"series":"Full MI","date":"2008-343","value":-0.069},{"series":"Full MI","date":"2009-007","value":-0.0442},{"series":"Full MI","date":"2009-029","value":-0.0213},{"series":"Full MI","date":"2009-047","value":-0.0366},{"series":"Full MI","date":"2009-077","value":-0.0594},{"series":"Full MI","date":"2009-113","value":-0.067},{"series":"Full MI","date":"2009-128","value":-0.0594},{"series":"Full MI","date":"2009-172","value":-0.0488},{"series":"Full MI","date":"2010-135","value":-0.0488},{"series":"Full MI","date":"2010-150","value":-0.0727},{"series":"Full MI","date":"2011-150","value":-0.0727},{"series":"Full MI","date":"2011-168","value":-0.1118},{"series":"Full MI","date":"2013-358","value":-0.1118},
      {"series":"CS-MI","date":"2000-301","value":0.0848},{"series":"CS-MI","date":"2000-340","value":0.0799},{"series":"CS-MI","date":"2001-001","value":0.0788},{"series":"CS-MI","date":"2001-026","value":0.0875},{"series":"CS-MI","date":"2001-044","value":0.1047},{"series":"CS-MI","date":"2001-062","value":0.0951},{"series":"CS-MI","date":"2001-080","value":0.1085},{"series":"CS-MI","date":"2001-106","value":0.1153},{"series":"CS-MI","date":"2001-124","value":0.0932},{"series":"CS-MI","date":"2001-161","value":0.0837},{"series":"CS-MI","date":"2001-197","value":0.0704},{"series":"CS-MI","date":"2001-223","value":0.0532},{"series":"CS-MI","date":"2001-245","value":0.0589},{"series":"CS-MI","date":"2001-274","value":0.0284},{"series":"CS-MI","date":"2001-310","value":0.0227},{"series":"CS-MI","date":"2002-015","value":0.0201},{"series":"CS-MI","date":"2002-088","value":0.0189},{"series":"CS-MI","date":"2002-124","value":0.0132},{"series":"CS-MI","date":"2002-157","value":-0.0061},{"series":"CS-MI","date":"2002-201","value":-0.0195},{"series":"CS-MI","date":"2002-245","value":-0.0385},{"series":"CS-MI","date":"2002-299","value":-0.0511},{"series":"CS-MI","date":"2002-336","value":-0.0526},{"series":"CS-MI","date":"2003-022","value":-0.0366},{"series":"CS-MI","date":"2003-095","value":-0.0358},{"series":"CS-MI","date":"2003-164","value":-0.0328},{"series":"CS-MI","date":"2003-219","value":-0.0175},{"series":"CS-MI","date":"2003-237","value":-0.0156},{"series":"CS-MI","date":"2003-361","value":-0.0137},{"series":"CS-MI","date":"2004-084","value":-0.0106},{"series":"CS-MI","date":"2004-135","value":-0.0061},{"series":"CS-MI","date":"2004-277","value":-0.0061},{"series":"CS-MI","date":"2004-343","value":-0.0004},{"series":"CS-MI","date":"2005-055","value":0.0073},{"series":"CS-MI","date":"2005-124","value":0.0054},{"series":"CS-MI","date":"2005-266","value":0.0063},{"series":"CS-MI","date":"2005-339","value":0.0063},{"series":"CS-MI","date":"2006-044","value":0.010},{"series":"CS-MI","date":"2006-110","value":0.0149},{"series":"CS-MI","date":"2006-150","value":0.0085},{"series":"CS-MI","date":"2006-256","value":0.0073},{"series":"CS-MI","date":"2006-310","value":0.0046},{"series":"CS-MI","date":"2007-033","value":0.0073},{"series":"CS-MI","date":"2007-106","value":0.0046},{"series":"CS-MI","date":"2007-175","value":0.0015},{"series":"CS-MI","date":"2007-223","value":-0.0015},{"series":"CS-MI","date":"2007-248","value":-0.0213},{"series":"CS-MI","date":"2007-281","value":-0.0442},{"series":"CS-MI","date":"2007-318","value":-0.0366},{"series":"CS-MI","date":"2007-354","value":-0.0442},{"series":"CS-MI","date":"2008-040","value":-0.0404},{"series":"CS-MI","date":"2008-113","value":-0.0404},{"series":"CS-MI","date":"2008-131","value":-0.0385},{"series":"CS-MI","date":"2008-237","value":-0.0385},{"series":"CS-MI","date":"2008-256","value":-0.0252},{"series":"CS-MI","date":"2008-277","value":-0.0137},{"series":"CS-MI","date":"2008-307","value":-0.0518},{"series":"CS-MI","date":"2008-343","value":-0.0747},{"series":"CS-MI","date":"2008-361","value":-0.0594},{"series":"CS-MI","date":"2009-015","value":-0.0175},{"series":"CS-MI","date":"2009-033","value":-0.0156},{"series":"CS-MI","date":"2009-055","value":-0.0213},{"series":"CS-MI","date":"2010-128","value":-0.0213},{"series":"CS-MI","date":"2010-142","value":-0.0537},{"series":"CS-MI","date":"2011-099","value":-0.0537},{"series":"CS-MI","date":"2011-117","value":-0.0766},{"series":"CS-MI","date":"2011-329","value":-0.0766},{"series":"CS-MI","date":"2011-347","value":-0.0853},{"series":"CS-MI","date":"2012-186","value":-0.0853},{"series":"CS-MI","date":"2012-201","value":-0.1095},{"series":"CS-MI","date":"2013-153","value":-0.1095},{"series":"CS-MI","date":"2013-168","value":-0.0916},{"series":"CS-MI","date":"2013-358","value":-0.0916}
    ],
    "nigs": [
      {"series":"Full MI","date":"2000-301","value":0.855},{"series":"Full MI","date":"2000-329","value":0.824},{"series":"Full MI","date":"2000-350","value":0.673},{"series":"Full MI","date":"2001-015","value":0.551},{"series":"Full MI","date":"2001-040","value":0.369},{"series":"Full MI","date":"2001-066","value":0.127},{"series":"Full MI","date":"2001-084","value":0.052},{"series":"Full MI","date":"2001-102","value":0.369},{"series":"Full MI","date":"2001-124","value":0.293},{"series":"Full MI","date":"2001-172","value":0.188},{"series":"Full MI","date":"2001-193","value":0.172},{"series":"Full MI","date":"2001-223","value":-0.055},{"series":"Full MI","date":"2001-252","value":-0.161},{"series":"Full MI","date":"2001-274","value":-0.282},{"series":"Full MI","date":"2001-292","value":-0.358},{"series":"Full MI","date":"2001-325","value":-0.343},{"series":"Full MI","date":"2001-361","value":-0.358},{"series":"Full MI","date":"2002-066","value":-0.352},{"series":"Full MI","date":"2002-135","value":-0.267},{"series":"Full MI","date":"2002-204","value":-0.176},{"series":"Full MI","date":"2002-241","value":-0.055},{"series":"Full MI","date":"2002-292","value":-0.061},{"series":"Full MI","date":"2002-343","value":-0.024},{"series":"Full MI","date":"2003-029","value":0.012},{"series":"Full MI","date":"2003-186","value":0.006},{"series":"Full MI","date":"2003-361","value":0.036},{"series":"Full MI","date":"2004-168","value":0.052},{"series":"Full MI","date":"2004-292","value":0.052},{"series":"Full MI","date":"2005-047","value":0.036},{"series":"Full MI","date":"2005-080","value":0.006},{"series":"Full MI","date":"2005-150","value":-0.018},{"series":"Full MI","date":"2005-256","value":-0.055},{"series":"Full MI","date":"2005-307","value":-0.091},{"series":"Full MI","date":"2006-029","value":-0.115},{"series":"Full MI","date":"2006-117","value":-0.146},{"series":"Full MI","date":"2006-168","value":-0.131},{"series":"Full MI","date":"2006-219","value":-0.10},{"series":"Full MI","date":"2007-150","value":-0.10},{"series":"Full MI","date":"2007-219","value":-0.115},{"series":"Full MI","date":"2007-270","value":-0.146},{"series":"Full MI","date":"2007-325","value":-0.131},{"series":"Full MI","date":"2008-011","value":-0.17},{"series":"Full MI","date":"2008-062","value":-0.161},{"series":"Full MI","date":"2008-099","value":-0.221},{"series":"Full MI","date":"2008-131","value":-0.267},{"series":"Full MI","date":"2008-277","value":-0.267},{"series":"Full MI","date":"2008-307","value":-0.388},{"series":"Full MI","date":"2008-321","value":-0.51},{"series":"Full MI","date":"2008-332","value":-0.904},{"series":"Full MI","date":"2008-358","value":-0.904},{"series":"Full MI","date":"2009-011","value":-0.601},{"series":"Full MI","date":"2009-026","value":-0.754},{"series":"Full MI","date":"2009-051","value":-0.449},{"series":"Full MI","date":"2009-073","value":-0.388},{"series":"Full MI","date":"2009-095","value":-0.252},{"series":"Full MI","date":"2009-113","value":-0.131},{"series":"Full MI","date":"2009-150","value":-0.115},{"series":"Full MI","date":"2009-183","value":-0.10},{"series":"Full MI","date":"2009-219","value":-0.055},{"series":"Full MI","date":"2010-062","value":-0.039},{"series":"Full MI","date":"2010-113","value":-0.030},{"series":"Full MI","date":"2011-044","value":-0.030},{"series":"Full MI","date":"2011-164","value":-0.039},{"series":"Full MI","date":"2011-183","value":-0.206},{"series":"Full MI","date":"2011-215","value":-0.313},{"series":"Full MI","date":"2013-285","value":-0.328},{"series":"Full MI","date":"2013-358","value":-0.313},
      {"series":"CS-MI","date":"2000-301","value":1.006},{"series":"CS-MI","date":"2000-321","value":1.012},{"series":"CS-MI","date":"2000-343","value":0.839},{"series":"CS-MI","date":"2001-007","value":0.627},{"series":"CS-MI","date":"2001-033","value":0.46},{"series":"CS-MI","date":"2001-055","value":0.278},{"series":"CS-MI","date":"2001-077","value":0.188},{"series":"CS-MI","date":"2001-102","value":0.575},{"series":"CS-MI","date":"2001-124","value":0.339},{"series":"CS-MI","date":"2001-153","value":0.248},{"series":"CS-MI","date":"2001-183","value":0.157},{"series":"CS-MI","date":"2001-204","value":0.036},{"series":"CS-MI","date":"2001-230","value":-0.085},{"series":"CS-MI","date":"2001-263","value":-0.208},{"series":"CS-MI","date":"2001-285","value":-0.449},{"series":"CS-MI","date":"2001-310","value":-0.388},{"series":"CS-MI","date":"2001-361","value":-0.373},{"series":"CS-MI","date":"2002-106","value":-0.373},{"series":"CS-MI","date":"2002-135","value":-0.313},{"series":"CS-MI","date":"2002-172","value":-0.237},{"series":"CS-MI","date":"2002-212","value":-0.176},{"series":"CS-MI","date":"2002-241","value":-0.131},{"series":"CS-MI","date":"2002-292","value":-0.085},{"series":"CS-MI","date":"2002-343","value":-0.039},{"series":"CS-MI","date":"2003-029","value":0.021},{"series":"CS-MI","date":"2003-117","value":0.036},{"series":"CS-MI","date":"2003-256","value":0.042},{"series":"CS-MI","date":"2004-029","value":0.052},{"series":"CS-MI","date":"2004-135","value":0.073},{"series":"CS-MI","date":"2005-047","value":0.073},{"series":"CS-MI","date":"2005-080","value":0.030},{"series":"CS-MI","date":"2005-150","value":0.021},{"series":"CS-MI","date":"2005-204","value":-0.009},{"series":"CS-MI","date":"2005-256","value":-0.039},{"series":"CS-MI","date":"2005-358","value":-0.049},{"series":"CS-MI","date":"2006-117","value":-0.049},{"series":"CS-MI","date":"2006-168","value":-0.018},{"series":"CS-MI","date":"2006-270","value":-0.009},{"series":"CS-MI","date":"2007-047","value":0.0},{"series":"CS-MI","date":"2007-150","value":-0.009},{"series":"CS-MI","date":"2007-256","value":-0.024},{"series":"CS-MI","date":"2007-270","value":-0.055},{"series":"CS-MI","date":"2007-325","value":-0.085},{"series":"CS-MI","date":"2008-011","value":-0.109},{"series":"CS-MI","date":"2008-044","value":-0.07},{"series":"CS-MI","date":"2008-055","value":-0.161},{"series":"CS-MI","date":"2008-183","value":-0.161},{"series":"CS-MI","date":"2008-288","value":-0.176},{"series":"CS-MI","date":"2008-321","value":-0.388},{"series":"CS-MI","date":"2008-347","value":-0.571},{"series":"CS-MI","date":"2009-004","value":-1.088},{"series":"CS-MI","date":"2009-018","value":-1.118},{"series":"CS-MI","date":"2009-037","value":-0.571},{"series":"CS-MI","date":"2009-051","value":-0.267},{"series":"CS-MI","date":"2009-080","value":-0.252},{"series":"CS-MI","date":"2009-095","value":-0.055},{"series":"CS-MI","date":"2011-113","value":-0.055},{"series":"CS-MI","date":"2011-131","value":-0.07},{"series":"CS-MI","date":"2011-358","value":-0.079},{"series":"CS-MI","date":"2012-007","value":-0.176},{"series":"CS-MI","date":"2012-226","value":-0.176},{"series":"CS-MI","date":"2012-234","value":-0.291},{"series":"CS-MI","date":"2013-197","value":-0.291},{"series":"CS-MI","date":"2013-215","value":-0.303},{"series":"CS-MI","date":"2013-358","value":-0.303}
    ],
    "nigl": [
      {"series":"Full MI","date":"2000-301","value":-0.328},{"series":"Full MI","date":"2000-329","value":-0.322},{"series":"Full MI","date":"2000-354","value":-0.304},{"series":"Full MI","date":"2001-015","value":-0.298},{"series":"Full MI","date":"2001-044","value":-0.456},{"series":"Full MI","date":"2001-062","value":-0.395},{"series":"Full MI","date":"2001-084","value":-0.346},{"series":"Full MI","date":"2001-110","value":-0.279},{"series":"Full MI","date":"2001-157","value":-0.237},{"series":"Full MI","date":"2001-226","value":-0.224},{"series":"Full MI","date":"2001-277","value":-0.188},{"series":"Full MI","date":"2002-018","value":-0.173},{"series":"Full MI","date":"2002-106","value":-0.17},{"series":"Full MI","date":"2002-161","value":-0.115},{"series":"Full MI","date":"2002-212","value":-0.054},{"series":"Full MI","date":"2002-237","value":-0.007},{"series":"Full MI","date":"2002-318","value":-0.005},{"series":"Full MI","date":"2003-040","value":0.01},{"series":"Full MI","date":"2003-146","value":0.01},{"series":"Full MI","date":"2003-197","value":-0.005},{"series":"Full MI","date":"2003-252","value":-0.02},{"series":"Full MI","date":"2004-062","value":-0.02},{"series":"Full MI","date":"2004-131","value":-0.007},{"series":"Full MI","date":"2004-325","value":-0.007},{"series":"Full MI","date":"2004-361","value":-0.027},{"series":"Full MI","date":"2005-066","value":-0.041},{"series":"Full MI","date":"2005-153","value":-0.054},{"series":"Full MI","date":"2005-259","value":-0.072},{"series":"Full MI","date":"2005-347","value":-0.096},{"series":"Full MI","date":"2006-069","value":-0.10},{"series":"Full MI","date":"2006-120","value":-0.115},{"series":"Full MI","date":"2006-190","value":-0.121},{"series":"Full MI","date":"2006-263","value":-0.10},{"series":"Full MI","date":"2007-124","value":-0.102},{"series":"Full MI","date":"2007-212","value":-0.10},{"series":"Full MI","date":"2007-266","value":-0.09},{"series":"Full MI","date":"2007-318","value":-0.096},{"series":"Full MI","date":"2007-354","value":-0.09},{"series":"Full MI","date":"2008-022","value":-0.121},{"series":"Full MI","date":"2008-047","value":-0.17},{"series":"Full MI","date":"2008-128","value":-0.176},{"series":"Full MI","date":"2008-153","value":-0.139},{"series":"Full MI","date":"2008-288","value":-0.139},{"series":"Full MI","date":"2008-307","value":-0.066},{"series":"Full MI","date":"2008-329","value":0.007},{"series":"Full MI","date":"2008-358","value":-0.005},{"series":"Full MI","date":"2009-011","value":0.202},{"series":"Full MI","date":"2009-033","value":0.239},{"series":"Full MI","date":"2009-080","value":0.257},{"series":"Full MI","date":"2009-113","value":0.263},{"series":"Full MI","date":"2009-139","value":0.288},{"series":"Full MI","date":"2009-161","value":0.202},{"series":"Full MI","date":"2009-212","value":0.117},{"series":"Full MI","date":"2009-237","value":0.062},{"series":"Full MI","date":"2009-325","value":0.068},{"series":"Full MI","date":"2010-047","value":0.071},{"series":"Full MI","date":"2011-193","value":0.071},{"series":"Full MI","date":"2011-201","value":0.19},{"series":"Full MI","date":"2013-358","value":0.19},
      {"series":"CS-MI","date":"2000-301","value":-0.2976},{"series":"CS-MI","date":"2000-329","value":-0.279},{"series":"CS-MI","date":"2000-343","value":-0.255},{"series":"CS-MI","date":"2001-004","value":-0.249},{"series":"CS-MI","date":"2001-026","value":-0.322},{"series":"CS-MI","date":"2001-044","value":-0.444},{"series":"CS-MI","date":"2001-069","value":-0.371},{"series":"CS-MI","date":"2001-095","value":-0.261},{"series":"CS-MI","date":"2001-120","value":-0.23},{"series":"CS-MI","date":"2001-157","value":-0.218},{"series":"CS-MI","date":"2001-190","value":-0.212},{"series":"CS-MI","date":"2001-226","value":-0.20},{"series":"CS-MI","date":"2001-277","value":-0.182},{"series":"CS-MI","date":"2001-314","value":-0.173},{"series":"CS-MI","date":"2002-018","value":-0.17},{"series":"CS-MI","date":"2002-073","value":-0.17},{"series":"CS-MI","date":"2002-106","value":-0.151},{"series":"CS-MI","date":"2002-142","value":-0.121},{"series":"CS-MI","date":"2002-175","value":-0.09},{"series":"CS-MI","date":"2002-212","value":-0.041},{"series":"CS-MI","date":"2002-237","value":-0.005},{"series":"CS-MI","date":"2002-263","value":0.007},{"series":"CS-MI","date":"2002-318","value":0.017},{"series":"CS-MI","date":"2002-354","value":0.013},{"series":"CS-MI","date":"2003-004","value":0.02},{"series":"CS-MI","date":"2003-040","value":0.013},{"series":"CS-MI","date":"2003-058","value":0.02},{"series":"CS-MI","date":"2003-164","value":0.022},{"series":"CS-MI","date":"2003-215","value":0.013},{"series":"CS-MI","date":"2003-252","value":-0.002},{"series":"CS-MI","date":"2004-062","value":-0.002},{"series":"CS-MI","date":"2004-131","value":0.005},{"series":"CS-MI","date":"2004-336","value":0.005},{"series":"CS-MI","date":"2004-361","value":-0.011},{"series":"CS-MI","date":"2005-066","value":-0.017},{"series":"CS-MI","date":"2005-117","value":-0.027},{"series":"CS-MI","date":"2005-186","value":-0.035},{"series":"CS-MI","date":"2005-259","value":-0.041},{"series":"CS-MI","date":"2005-310","value":-0.057},{"series":"CS-MI","date":"2005-329","value":-0.06},{"series":"CS-MI","date":"2006-102","value":-0.06},{"series":"CS-MI","date":"2006-120","value":-0.072},{"series":"CS-MI","date":"2006-175","value":-0.063},{"series":"CS-MI","date":"2007-055","value":-0.066},{"series":"CS-MI","date":"2007-161","value":-0.072},{"series":"CS-MI","date":"2007-230","value":-0.078},{"series":"CS-MI","date":"2007-281","value":-0.072},{"series":"CS-MI","date":"2007-318","value":-0.054},{"series":"CS-MI","date":"2007-354","value":-0.063},{"series":"CS-MI","date":"2008-022","value":-0.051},{"series":"CS-MI","date":"2008-047","value":-0.09},{"series":"CS-MI","date":"2008-128","value":-0.09},{"series":"CS-MI","date":"2008-153","value":-0.084},{"series":"CS-MI","date":"2008-270","value":-0.08},{"series":"CS-MI","date":"2008-288","value":-0.102},{"series":"CS-MI","date":"2008-307","value":0.074},{"series":"CS-MI","date":"2008-329","value":0.007},{"series":"CS-MI","date":"2008-358","value":-0.005},{"series":"CS-MI","date":"2009-011","value":-0.066},{"series":"CS-MI","date":"2009-033","value":0.19},{"series":"CS-MI","date":"2009-080","value":0.19},{"series":"CS-MI","date":"2009-091","value":0.007},{"series":"CS-MI","date":"2010-172","value":0.007},{"series":"CS-MI","date":"2010-183","value":-0.023},{"series":"CS-MI","date":"2011-120","value":-0.023},{"series":"CS-MI","date":"2011-131","value":0.102},{"series":"CS-MI","date":"2012-004","value":0.102},{"series":"CS-MI","date":"2012-015","value":0.18},{"series":"CS-MI","date":"2012-215","value":0.18},{"series":"CS-MI","date":"2012-223","value":0.29},{"series":"CS-MI","date":"2013-201","value":0.29},{"series":"CS-MI","date":"2013-212","value":0.266},{"series":"CS-MI","date":"2013-358","value":0.266}
    ],
    "div": [
      {"series":"Full MI","date":"2000-301","value":-0.132},{"series":"Full MI","date":"2000-336","value":-0.1426},{"series":"Full MI","date":"2001-004","value":-0.1603},{"series":"Full MI","date":"2001-040","value":-0.1744},{"series":"Full MI","date":"2001-073","value":-0.1885},{"series":"Full MI","date":"2001-110","value":-0.2097},{"series":"Full MI","date":"2001-146","value":-0.245},{"series":"Full MI","date":"2001-179","value":-0.2697},{"series":"Full MI","date":"2001-234","value":-0.2944},{"series":"Full MI","date":"2001-274","value":-0.3156},{"series":"Full MI","date":"2001-296","value":-0.3353},{"series":"Full MI","date":"2002-007","value":-0.3382},{"series":"Full MI","date":"2002-113","value":-0.3382},{"series":"Full MI","date":"2002-150","value":-0.3191},{"series":"Full MI","date":"2002-307","value":-0.317},{"series":"Full MI","date":"2002-358","value":-0.3226},{"series":"Full MI","date":"2003-029","value":-0.3297},{"series":"Full MI","date":"2003-135","value":-0.3382},{"series":"Full MI","date":"2003-223","value":-0.3509},{"series":"Full MI","date":"2004-033","value":-0.3565},{"series":"Full MI","date":"2004-088","value":-0.365},{"series":"Full MI","date":"2004-120","value":-0.3735},{"series":"Full MI","date":"2004-226","value":-0.3756},{"series":"Full MI","date":"2005-001","value":-0.3735},{"series":"Full MI","date":"2005-037","value":-0.3686},{"series":"Full MI","date":"2005-047","value":-0.3862},{"series":"Full MI","date":"2005-066","value":-0.365},{"series":"Full MI","date":"2005-099","value":-0.3509},{"series":"Full MI","date":"2005-150","value":-0.3382},{"series":"Full MI","date":"2005-193","value":-0.2944},{"series":"Full MI","date":"2005-248","value":-0.2732},{"series":"Full MI","date":"2005-288","value":-0.2379},{"series":"Full MI","date":"2005-336","value":-0.2309},{"series":"Full MI","date":"2006-022","value":-0.2132},{"series":"Full MI","date":"2006-066","value":-0.1815},{"series":"Full MI","date":"2006-110","value":-0.1462},{"series":"Full MI","date":"2006-146","value":-0.1356},{"series":"Full MI","date":"2006-197","value":-0.1144},{"series":"Full MI","date":"2006-252","value":-0.1073},{"series":"Full MI","date":"2006-303","value":-0.0953},{"series":"Full MI","date":"2007-044","value":-0.0953},{"series":"Full MI","date":"2007-062","value":-0.0756},{"series":"Full MI","date":"2007-219","value":-0.072},{"series":"Full MI","date":"2007-248","value":-0.0332},{"series":"Full MI","date":"2007-274","value":-0.0297},{"series":"Full MI","date":"2007-307","value":-0.0064},{"series":"Full MI","date":"2007-343","value":0.0148},{"series":"Full MI","date":"2008-011","value":0.0176},{"series":"Full MI","date":"2008-022","value":-0.0191},{"series":"Full MI","date":"2008-037","value":-0.0367},{"series":"Full MI","date":"2008-084","value":-0.0438},{"series":"Full MI","date":"2008-135","value":-0.0473},{"series":"Full MI","date":"2008-204","value":-0.0438},{"series":"Full MI","date":"2008-241","value":-0.0403},{"series":"Full MI","date":"2008-277","value":-0.0367},{"series":"Full MI","date":"2008-292","value":-0.0261},{"series":"Full MI","date":"2008-310","value":-0.0614},{"series":"Full MI","date":"2008-329","value":-0.0826},{"series":"Full MI","date":"2008-358","value":-0.0932},{"series":"Full MI","date":"2009-011","value":-0.072},{"series":"Full MI","date":"2009-044","value":-0.0332},{"series":"Full MI","date":"2009-088","value":-0.072},{"series":"Full MI","date":"2009-113","value":-0.0756},{"series":"Full MI","date":"2009-139","value":-0.0508},{"series":"Full MI","date":"2009-157","value":-0.0403},{"series":"Full MI","date":"2009-186","value":-0.0205},{"series":"Full MI","date":"2009-281","value":-0.0205},{"series":"Full MI","date":"2009-296","value":0.0007},{"series":"Full MI","date":"2010-135","value":0.0007},{"series":"Full MI","date":"2010-150","value":0.0268},{"series":"Full MI","date":"2011-146","value":0.0268},{"series":"Full MI","date":"2011-164","value":-0.0155},{"series":"Full MI","date":"2013-358","value":-0.0134},
      {"series":"CS-MI","date":"2000-301","value":-0.0953},{"series":"CS-MI","date":"2000-325","value":-0.1003},{"series":"CS-MI","date":"2000-350","value":-0.1214},{"series":"CS-MI","date":"2001-022","value":-0.1391},{"series":"CS-MI","date":"2001-040","value":-0.1532},{"series":"CS-MI","date":"2001-091","value":-0.1532},{"series":"CS-MI","date":"2001-128","value":-0.2026},{"series":"CS-MI","date":"2001-164","value":-0.2379},{"series":"CS-MI","date":"2001-215","value":-0.2662},{"series":"CS-MI","date":"2001-266","value":-0.298},{"series":"CS-MI","date":"2001-296","value":-0.3212},{"series":"CS-MI","date":"2001-339","value":-0.3241},{"series":"CS-MI","date":"2002-095","value":-0.3241},{"series":"CS-MI","date":"2002-142","value":-0.3121},{"series":"CS-MI","date":"2002-183","value":-0.298},{"series":"CS-MI","date":"2002-307","value":-0.298},{"series":"CS-MI","date":"2002-358","value":-0.3191},{"series":"CS-MI","date":"2003-011","value":-0.3226},{"series":"CS-MI","date":"2003-135","value":-0.3226},{"series":"CS-MI","date":"2003-204","value":-0.3283},{"series":"CS-MI","date":"2003-223","value":-0.3332},{"series":"CS-MI","date":"2004-033","value":-0.3332},{"series":"CS-MI","date":"2004-069","value":-0.34},{"series":"CS-MI","date":"2004-120","value":-0.351},{"series":"CS-MI","date":"2005-018","value":-0.3495},{"series":"CS-MI","date":"2005-044","value":-0.3594},{"series":"CS-MI","date":"2005-073","value":-0.3297},{"series":"CS-MI","date":"2005-124","value":-0.3262},{"series":"CS-MI","date":"2005-150","value":-0.3156},{"series":"CS-MI","date":"2005-193","value":-0.2944},{"series":"CS-MI","date":"2005-241","value":-0.2732},{"series":"CS-MI","date":"2005-281","value":-0.245},{"series":"CS-MI","date":"2005-318","value":-0.2323},{"series":"CS-MI","date":"2006-022","value":-0.2273},{"series":"CS-MI","date":"2006-066","value":-0.2097},{"series":"CS-MI","date":"2006-120","value":-0.1815},{"series":"CS-MI","date":"2006-164","value":-0.1673},{"series":"CS-MI","date":"2006-270","value":-0.1659},{"series":"CS-MI","date":"2006-296","value":-0.1518},{"series":"CS-MI","date":"2007-011","value":-0.1518},{"series":"CS-MI","date":"2007-026","value":-0.1356},{"series":"CS-MI","date":"2007-080","value":-0.1285},{"series":"CS-MI","date":"2007-131","value":-0.1179},{"series":"CS-MI","date":"2007-186","value":-0.0967},{"series":"CS-MI","date":"2007-226","value":-0.0614},{"series":"CS-MI","date":"2007-256","value":-0.0332},{"series":"CS-MI","date":"2007-307","value":-0.012},{"series":"CS-MI","date":"2007-343","value":0.0148},{"series":"CS-MI","date":"2008-011","value":0.0339},{"series":"CS-MI","date":"2008-029","value":0.0021},{"series":"CS-MI","date":"2008-084","value":-0.0028},{"series":"CS-MI","date":"2008-117","value":0.0021},{"series":"CS-MI","date":"2008-259","value":0.0021},{"series":"CS-MI","date":"2008-277","value":0.0268},{"series":"CS-MI","date":"2008-292","value":0.036},{"series":"CS-MI","date":"2008-310","value":0.0092},{"series":"CS-MI","date":"2008-329","value":-0.0544},{"series":"CS-MI","date":"2009-001","value":-0.072},{"series":"CS-MI","date":"2009-018","value":-0.0614},{"series":"CS-MI","date":"2009-037","value":0.0007},{"series":"CS-MI","date":"2009-069","value":0.0007},{"series":"CS-MI","date":"2009-080","value":-0.0289},{"series":"CS-MI","date":"2010-135","value":-0.0289},{"series":"CS-MI","date":"2010-150","value":0.0007},{"series":"CS-MI","date":"2011-113","value":0.0007},{"series":"CS-MI","date":"2011-128","value":-0.0177},{"series":"CS-MI","date":"2012-150","value":-0.0177},{"series":"CS-MI","date":"2012-168","value":-0.0191},{"series":"CS-MI","date":"2013-172","value":-0.0191},{"series":"CS-MI","date":"2013-190","value":-0.0226},{"series":"CS-MI","date":"2013-358","value":-0.0226}
    ]
  },
  "spacing": 19,
  "center": true,
  "resolve": {"scale": {"color": "independent", "strokeDash": "independent"}},
  "vconcat": [
    {
      "columns": 2,
      "spacing": {"row": 19, "column": 32},
      "resolve": {"scale": {"color": "independent", "strokeDash": "independent"}},
      "concat": [
        {
          "width": 542, "height": 245, "title": {"text": "ABS Aaa", "dy": 5},
          "data": {"name": "aaa", "format": {"parse": {"date": "utc:'%Y-%j'"}}},
          "layer": [
            {"data": {"values": [{"z": 0}]}, "mark": {"type": "rule", "color": "#8c8c8c", "strokeWidth": 1.2}, "encoding": {"y": {"field": "z", "type": "quantitative"}}},
            {"transform": [{"filter": {"field": "series", "equal": "Full MI"}}], "mark": {"type": "line", "strokeWidth": 3.3, "clip": true},
             "encoding": {
              "x": {"field": "date", "type": "temporal", "scale": {"type": "utc", "domain": [{"year":2000,"month":10,"date":27,"utc":true},{"year":2013,"month":12,"date":24,"utc":true}]}, "axis": {"format": "%Y-%m", "values": [{"year":2000,"month":10,"date":27,"utc":true},{"year":2002,"month":5,"date":10,"utc":true},{"year":2003,"month":11,"date":21,"utc":true},{"year":2005,"month":6,"date":3,"utc":true},{"year":2006,"month":12,"date":15,"utc":true},{"year":2008,"month":6,"date":27,"utc":true},{"year":2010,"month":1,"date":8,"utc":true},{"year":2011,"month":7,"date":22,"utc":true},{"year":2013,"month":2,"date":1,"utc":true}]}},
              "y": {"field": "value", "type": "quantitative", "scale": {"domain": [-0.04, 0.06], "nice": false, "zero": false}, "axis": {"values": [-0.04, -0.02, 0, 0.02, 0.04, 0.06], "format": ".3f"}},
              "color": {"field": "series", "type": "nominal", "scale": {"domain": ["Full MI", "CS-MI"], "range": ["#1F3A6E", "#A01C20"]}, "legend": {"title": null, "orient": "none", "direction": "horizontal", "legendX": 142, "legendY": 265}},
              "strokeDash": {"field": "series", "type": "nominal", "scale": {"domain": ["Full MI", "CS-MI"], "range": [[26, 8], [1, 0]]}, "legend": {"title": null, "orient": "none", "direction": "horizontal", "legendX": 142, "legendY": 265}}
             }},
            {"transform": [{"filter": {"field": "series", "equal": "CS-MI"}}], "mark": {"type": "line", "strokeWidth": 2.6, "clip": true},
             "encoding": {"x": {"field": "date", "type": "temporal"}, "y": {"field": "value", "type": "quantitative"}, "color": {"field": "series", "type": "nominal"}, "strokeDash": {"field": "series", "type": "nominal"}}}
          ]
        },
        {
          "width": 546, "height": 245, "title": "ABS Aa-Bbb",
          "data": {"name": "aabbb", "format": {"parse": {"date": "utc:'%Y-%j'"}}},
          "layer": [
            {"transform": [{"filter": {"field": "series", "equal": "Full MI"}}], "mark": {"type": "line", "strokeWidth": 3.3, "clip": true},
             "encoding": {
              "x": {"field": "date", "type": "temporal", "scale": {"type": "utc", "domain": [{"year":2000,"month":10,"date":27,"utc":true},{"year":2013,"month":12,"date":24,"utc":true}]}, "axis": {"format": "%Y-%m", "values": [{"year":2000,"month":10,"date":27,"utc":true},{"year":2002,"month":5,"date":10,"utc":true},{"year":2003,"month":11,"date":21,"utc":true},{"year":2005,"month":6,"date":3,"utc":true},{"year":2006,"month":12,"date":15,"utc":true},{"year":2008,"month":6,"date":27,"utc":true},{"year":2010,"month":1,"date":8,"utc":true},{"year":2011,"month":7,"date":22,"utc":true},{"year":2013,"month":2,"date":1,"utc":true}]}},
              "y": {"field": "value", "type": "quantitative", "scale": {"domain": [0.88, 1.02], "nice": false, "zero": false}, "axis": {"values": [0.88, 0.91, 0.94, 0.97, 1.0], "format": ".3f"}},
              "color": {"field": "series", "type": "nominal", "scale": {"domain": ["Full MI", "CS-MI"], "range": ["#1F3A6E", "#A01C20"]}, "legend": {"title": null, "orient": "none", "direction": "horizontal", "legendX": 146, "legendY": 265}},
              "strokeDash": {"field": "series", "type": "nominal", "scale": {"domain": ["Full MI", "CS-MI"], "range": [[26, 8], [1, 0]]}, "legend": {"title": null, "orient": "none", "direction": "horizontal", "legendX": 146, "legendY": 265}}
             }},
            {"transform": [{"filter": {"field": "series", "equal": "CS-MI"}}], "mark": {"type": "line", "strokeWidth": 2.6, "clip": true},
             "encoding": {"x": {"field": "date", "type": "temporal"}, "y": {"field": "value", "type": "quantitative"}, "color": {"field": "series", "type": "nominal"}, "strokeDash": {"field": "series", "type": "nominal"}}}
          ]
        },
        {
          "width": 542, "height": 245, "title": "Repo rate",
          "data": {"name": "repo", "format": {"parse": {"date": "utc:'%Y-%j'"}}},
          "layer": [
            {"transform": [{"filter": {"field": "series", "equal": "Full MI"}}], "mark": {"type": "line", "strokeWidth": 3.3, "clip": true},
             "encoding": {
              "x": {"field": "date", "type": "temporal", "scale": {"type": "utc", "domain": [{"year":2000,"month":10,"date":27,"utc":true},{"year":2013,"month":12,"date":24,"utc":true}]}, "axis": {"format": "%Y-%m", "values": [{"year":2000,"month":10,"date":27,"utc":true},{"year":2002,"month":5,"date":10,"utc":true},{"year":2003,"month":11,"date":21,"utc":true},{"year":2005,"month":6,"date":3,"utc":true},{"year":2006,"month":12,"date":15,"utc":true},{"year":2008,"month":6,"date":27,"utc":true},{"year":2010,"month":1,"date":8,"utc":true},{"year":2011,"month":7,"date":22,"utc":true},{"year":2013,"month":2,"date":1,"utc":true}]}},
              "y": {"field": "value", "type": "quantitative", "scale": {"domain": [-0.3, 0], "nice": false, "zero": false}, "axis": {"values": [-0.3, -0.22, -0.14, -0.06], "format": ".3f"}},
              "color": {"field": "series", "type": "nominal", "scale": {"domain": ["Full MI", "CS-MI"], "range": ["#1F3A6E", "#A01C20"]}, "legend": {"title": null, "orient": "none", "direction": "horizontal", "legendX": 142, "legendY": 265}},
              "strokeDash": {"field": "series", "type": "nominal", "scale": {"domain": ["Full MI", "CS-MI"], "range": [[26, 8], [1, 0]]}, "legend": {"title": null, "orient": "none", "direction": "horizontal", "legendX": 142, "legendY": 265}}
             }},
            {"transform": [{"filter": {"field": "series", "equal": "CS-MI"}}], "mark": {"type": "line", "strokeWidth": 2.6, "clip": true},
             "encoding": {"x": {"field": "date", "type": "temporal"}, "y": {"field": "value", "type": "quantitative"}, "color": {"field": "series", "type": "nominal"}, "strokeDash": {"field": "series", "type": "nominal"}}}
          ]
        },
        {
          "width": 546, "height": 245, "title": "Treasuries",
          "data": {"name": "treas", "format": {"parse": {"date": "utc:'%Y-%j'"}}},
          "layer": [
            {"data": {"values": [{"z": 0}]}, "mark": {"type": "rule", "color": "#8c8c8c", "strokeWidth": 1.2}, "encoding": {"y": {"field": "z", "type": "quantitative"}}},
            {"transform": [{"filter": {"field": "series", "equal": "Full MI"}}], "mark": {"type": "line", "strokeWidth": 3.3, "clip": true},
             "encoding": {
              "x": {"field": "date", "type": "temporal", "scale": {"type": "utc", "domain": [{"year":2000,"month":10,"date":27,"utc":true},{"year":2013,"month":12,"date":24,"utc":true}]}, "axis": {"format": "%Y-%m", "values": [{"year":2000,"month":10,"date":27,"utc":true},{"year":2002,"month":5,"date":10,"utc":true},{"year":2003,"month":11,"date":21,"utc":true},{"year":2005,"month":6,"date":3,"utc":true},{"year":2006,"month":12,"date":15,"utc":true},{"year":2008,"month":6,"date":27,"utc":true},{"year":2010,"month":1,"date":8,"utc":true},{"year":2011,"month":7,"date":22,"utc":true},{"year":2013,"month":2,"date":1,"utc":true}]}},
              "y": {"field": "value", "type": "quantitative", "scale": {"domain": [-0.28, 0.14], "nice": false, "zero": false}, "axis": {"values": [-0.28, -0.2, -0.12, -0.04, 0.04, 0.12], "format": ".3f"}},
              "color": {"field": "series", "type": "nominal", "scale": {"domain": ["Full MI", "CS-MI"], "range": ["#1F3A6E", "#A01C20"]}, "legend": {"title": null, "orient": "none", "direction": "horizontal", "legendX": 146, "legendY": 265}},
              "strokeDash": {"field": "series", "type": "nominal", "scale": {"domain": ["Full MI", "CS-MI"], "range": [[26, 8], [1, 0]]}, "legend": {"title": null, "orient": "none", "direction": "horizontal", "legendX": 146, "legendY": 265}}
             }},
            {"transform": [{"filter": {"field": "series", "equal": "CS-MI"}}], "mark": {"type": "line", "strokeWidth": 2.6, "clip": true},
             "encoding": {"x": {"field": "date", "type": "temporal"}, "y": {"field": "value", "type": "quantitative"}, "color": {"field": "series", "type": "nominal"}, "strokeDash": {"field": "series", "type": "nominal"}}}
          ]
        },
        {
          "width": 542, "height": 245, "title": "Investment grade short-term",
          "data": {"name": "igs", "format": {"parse": {"date": "utc:'%Y-%j'"}}},
          "layer": [
            {"data": {"values": [{"z": 0}]}, "mark": {"type": "rule", "color": "#8c8c8c", "strokeWidth": 1.2}, "encoding": {"y": {"field": "z", "type": "quantitative"}}},
            {"transform": [{"filter": {"field": "series", "equal": "Full MI"}}], "mark": {"type": "line", "strokeWidth": 3.3, "clip": true},
             "encoding": {
              "x": {"field": "date", "type": "temporal", "scale": {"type": "utc", "domain": [{"year":2000,"month":10,"date":27,"utc":true},{"year":2013,"month":12,"date":24,"utc":true}]}, "axis": {"format": "%Y-%m", "values": [{"year":2000,"month":10,"date":27,"utc":true},{"year":2002,"month":5,"date":10,"utc":true},{"year":2003,"month":11,"date":21,"utc":true},{"year":2005,"month":6,"date":3,"utc":true},{"year":2006,"month":12,"date":15,"utc":true},{"year":2008,"month":6,"date":27,"utc":true},{"year":2010,"month":1,"date":8,"utc":true},{"year":2011,"month":7,"date":22,"utc":true},{"year":2013,"month":2,"date":1,"utc":true}]}},
              "y": {"field": "value", "type": "quantitative", "scale": {"domain": [-0.1, 0.16], "nice": false, "zero": false}, "axis": {"values": [-0.1, -0.05, 0, 0.05, 0.1, 0.15], "format": ".3f"}},
              "color": {"field": "series", "type": "nominal", "scale": {"domain": ["Full MI", "CS-MI"], "range": ["#1F3A6E", "#A01C20"]}, "legend": {"title": null, "orient": "none", "direction": "horizontal", "legendX": 142, "legendY": 265}},
              "strokeDash": {"field": "series", "type": "nominal", "scale": {"domain": ["Full MI", "CS-MI"], "range": [[26, 8], [1, 0]]}, "legend": {"title": null, "orient": "none", "direction": "horizontal", "legendX": 142, "legendY": 265}}
             }},
            {"transform": [{"filter": {"field": "series", "equal": "CS-MI"}}], "mark": {"type": "line", "strokeWidth": 2.6, "clip": true},
             "encoding": {"x": {"field": "date", "type": "temporal"}, "y": {"field": "value", "type": "quantitative"}, "color": {"field": "series", "type": "nominal"}, "strokeDash": {"field": "series", "type": "nominal"}}}
          ]
        },
        {
          "width": 546, "height": 245, "title": "Investment grade long-term",
          "data": {"name": "igl", "format": {"parse": {"date": "utc:'%Y-%j'"}}},
          "layer": [
            {"data": {"values": [{"z": 0}]}, "mark": {"type": "rule", "color": "#8c8c8c", "strokeWidth": 1.2}, "encoding": {"y": {"field": "z", "type": "quantitative"}}},
            {"transform": [{"filter": {"field": "series", "equal": "Full MI"}}], "mark": {"type": "line", "strokeWidth": 3.3, "clip": true},
             "encoding": {
              "x": {"field": "date", "type": "temporal", "scale": {"type": "utc", "domain": [{"year":2000,"month":10,"date":27,"utc":true},{"year":2013,"month":12,"date":24,"utc":true}]}, "axis": {"format": "%Y-%m", "values": [{"year":2000,"month":10,"date":27,"utc":true},{"year":2002,"month":5,"date":10,"utc":true},{"year":2003,"month":11,"date":21,"utc":true},{"year":2005,"month":6,"date":3,"utc":true},{"year":2006,"month":12,"date":15,"utc":true},{"year":2008,"month":6,"date":27,"utc":true},{"year":2010,"month":1,"date":8,"utc":true},{"year":2011,"month":7,"date":22,"utc":true},{"year":2013,"month":2,"date":1,"utc":true}]}},
              "y": {"field": "value", "type": "quantitative", "scale": {"domain": [-0.14, 0.14], "nice": false, "zero": false}, "axis": {"values": [-0.14, -0.09, -0.04, 0.01, 0.06, 0.11], "format": ".3f"}},
              "color": {"field": "series", "type": "nominal", "scale": {"domain": ["Full MI", "CS-MI"], "range": ["#1F3A6E", "#A01C20"]}, "legend": {"title": null, "orient": "none", "direction": "horizontal", "legendX": 146, "legendY": 265}},
              "strokeDash": {"field": "series", "type": "nominal", "scale": {"domain": ["Full MI", "CS-MI"], "range": [[26, 8], [1, 0]]}, "legend": {"title": null, "orient": "none", "direction": "horizontal", "legendX": 146, "legendY": 265}}
             }},
            {"transform": [{"filter": {"field": "series", "equal": "CS-MI"}}], "mark": {"type": "line", "strokeWidth": 2.6, "clip": true},
             "encoding": {"x": {"field": "date", "type": "temporal"}, "y": {"field": "value", "type": "quantitative"}, "color": {"field": "series", "type": "nominal"}, "strokeDash": {"field": "series", "type": "nominal"}}}
          ]
        },
        {
          "width": 541, "height": 245, "title": "Non-investment grade short term",
          "data": {"name": "nigs", "format": {"parse": {"date": "utc:'%Y-%j'"}}},
          "layer": [
            {"data": {"values": [{"z": 0}]}, "mark": {"type": "rule", "color": "#8c8c8c", "strokeWidth": 1.2}, "encoding": {"y": {"field": "z", "type": "quantitative"}}},
            {"transform": [{"filter": {"field": "series", "equal": "Full MI"}}], "mark": {"type": "line", "strokeWidth": 3.3, "clip": true},
             "encoding": {
              "x": {"field": "date", "type": "temporal", "scale": {"type": "utc", "domain": [{"year":2000,"month":10,"date":27,"utc":true},{"year":2013,"month":12,"date":24,"utc":true}]}, "axis": {"format": "%Y-%m", "values": [{"year":2000,"month":10,"date":27,"utc":true},{"year":2002,"month":5,"date":10,"utc":true},{"year":2003,"month":11,"date":21,"utc":true},{"year":2005,"month":6,"date":3,"utc":true},{"year":2006,"month":12,"date":15,"utc":true},{"year":2008,"month":6,"date":27,"utc":true},{"year":2010,"month":1,"date":8,"utc":true},{"year":2011,"month":7,"date":22,"utc":true},{"year":2013,"month":2,"date":1,"utc":true}]}},
              "y": {"field": "value", "type": "quantitative", "scale": {"domain": [-1.2, 1.04], "nice": false, "zero": false}, "axis": {"values": [-1.2, -0.8, -0.4, 0, 0.4, 0.8], "format": ".2f"}},
              "color": {"field": "series", "type": "nominal", "scale": {"domain": ["Full MI", "CS-MI"], "range": ["#1F3A6E", "#A01C20"]}, "legend": {"title": null, "orient": "none", "direction": "horizontal", "legendX": 141, "legendY": 265}},
              "strokeDash": {"field": "series", "type": "nominal", "scale": {"domain": ["Full MI", "CS-MI"], "range": [[26, 8], [1, 0]]}, "legend": {"title": null, "orient": "none", "direction": "horizontal", "legendX": 141, "legendY": 265}}
             }},
            {"transform": [{"filter": {"field": "series", "equal": "CS-MI"}}], "mark": {"type": "line", "strokeWidth": 2.6, "clip": true},
             "encoding": {"x": {"field": "date", "type": "temporal"}, "y": {"field": "value", "type": "quantitative"}, "color": {"field": "series", "type": "nominal"}, "strokeDash": {"field": "series", "type": "nominal"}}}
          ]
        },
        {
          "width": 546, "height": 245, "title": "Non-investment grade long term",
          "data": {"name": "nigl", "format": {"parse": {"date": "utc:'%Y-%j'"}}},
          "layer": [
            {"data": {"values": [{"z": 0}]}, "mark": {"type": "rule", "color": "#8c8c8c", "strokeWidth": 1.2}, "encoding": {"y": {"field": "z", "type": "quantitative"}}},
            {"transform": [{"filter": {"field": "series", "equal": "Full MI"}}], "mark": {"type": "line", "strokeWidth": 3.3, "clip": true},
             "encoding": {
              "x": {"field": "date", "type": "temporal", "scale": {"type": "utc", "domain": [{"year":2000,"month":10,"date":27,"utc":true},{"year":2013,"month":12,"date":24,"utc":true}]}, "axis": {"format": "%Y-%m", "values": [{"year":2000,"month":10,"date":27,"utc":true},{"year":2002,"month":5,"date":10,"utc":true},{"year":2003,"month":11,"date":21,"utc":true},{"year":2005,"month":6,"date":3,"utc":true},{"year":2006,"month":12,"date":15,"utc":true},{"year":2008,"month":6,"date":27,"utc":true},{"year":2010,"month":1,"date":8,"utc":true},{"year":2011,"month":7,"date":22,"utc":true},{"year":2013,"month":2,"date":1,"utc":true}]}},
              "y": {"field": "value", "type": "quantitative", "scale": {"domain": [-0.5, 0.4], "nice": false, "zero": false}, "axis": {"values": [-0.5, -0.3, -0.1, 0.1, 0.3], "format": ".2f"}},
              "color": {"field": "series", "type": "nominal", "scale": {"domain": ["Full MI", "CS-MI"], "range": ["#1F3A6E", "#A01C20"]}, "legend": {"title": null, "orient": "none", "direction": "horizontal", "legendX": 146, "legendY": 265}},
              "strokeDash": {"field": "series", "type": "nominal", "scale": {"domain": ["Full MI", "CS-MI"], "range": [[26, 8], [1, 0]]}, "legend": {"title": null, "orient": "none", "direction": "horizontal", "legendX": 146, "legendY": 265}}
             }},
            {"transform": [{"filter": {"field": "series", "equal": "CS-MI"}}], "mark": {"type": "line", "strokeWidth": 2.6, "clip": true},
             "encoding": {"x": {"field": "date", "type": "temporal"}, "y": {"field": "value", "type": "quantitative"}, "color": {"field": "series", "type": "nominal"}, "strokeDash": {"field": "series", "type": "nominal"}}}
          ]
        }
      ]
    },
    {
      "width": 543, "height": 245, "title": "Dividend yield",
      "data": {"name": "div", "format": {"parse": {"date": "utc:'%Y-%j'"}}},
      "layer": [
        {"data": {"values": [{"z": 0}]}, "mark": {"type": "rule", "color": "#8c8c8c", "strokeWidth": 1.2}, "encoding": {"y": {"field": "z", "type": "quantitative"}}},
        {"transform": [{"filter": {"field": "series", "equal": "Full MI"}}], "mark": {"type": "line", "strokeWidth": 3.3, "clip": true},
         "encoding": {
          "x": {"field": "date", "type": "temporal", "scale": {"type": "utc", "domain": [{"year":2000,"month":10,"date":27,"utc":true},{"year":2013,"month":12,"date":24,"utc":true}]}, "axis": {"format": "%Y-%m", "values": [{"year":2000,"month":10,"date":27,"utc":true},{"year":2002,"month":5,"date":10,"utc":true},{"year":2003,"month":11,"date":21,"utc":true},{"year":2005,"month":6,"date":3,"utc":true},{"year":2006,"month":12,"date":15,"utc":true},{"year":2008,"month":6,"date":27,"utc":true},{"year":2010,"month":1,"date":8,"utc":true},{"year":2011,"month":7,"date":22,"utc":true},{"year":2013,"month":2,"date":1,"utc":true}]}},
          "y": {"field": "value", "type": "quantitative", "scale": {"domain": [-0.44, 0.08], "nice": false, "zero": false}, "axis": {"values": [-0.44, -0.34, -0.24, -0.14, -0.04, 0.06], "format": ".3f"}},
          "color": {"field": "series", "type": "nominal", "scale": {"domain": ["Full MI", "CS-MI"], "range": ["#1F3A6E", "#A01C20"]}, "legend": {"title": null, "orient": "none", "direction": "horizontal", "legendX": 142, "legendY": 265}},
          "strokeDash": {"field": "series", "type": "nominal", "scale": {"domain": ["Full MI", "CS-MI"], "range": [[26, 8], [1, 0]]}, "legend": {"title": null, "orient": "none", "direction": "horizontal", "legendX": 142, "legendY": 265}}
         }},
        {"transform": [{"filter": {"field": "series", "equal": "CS-MI"}}], "mark": {"type": "line", "strokeWidth": 2.6, "clip": true},
         "encoding": {"x": {"field": "date", "type": "temporal"}, "y": {"field": "value", "type": "quantitative"}, "color": {"field": "series", "type": "nominal"}, "strokeDash": {"field": "series", "type": "nominal"}}}
      ]
    }
  ]
}
